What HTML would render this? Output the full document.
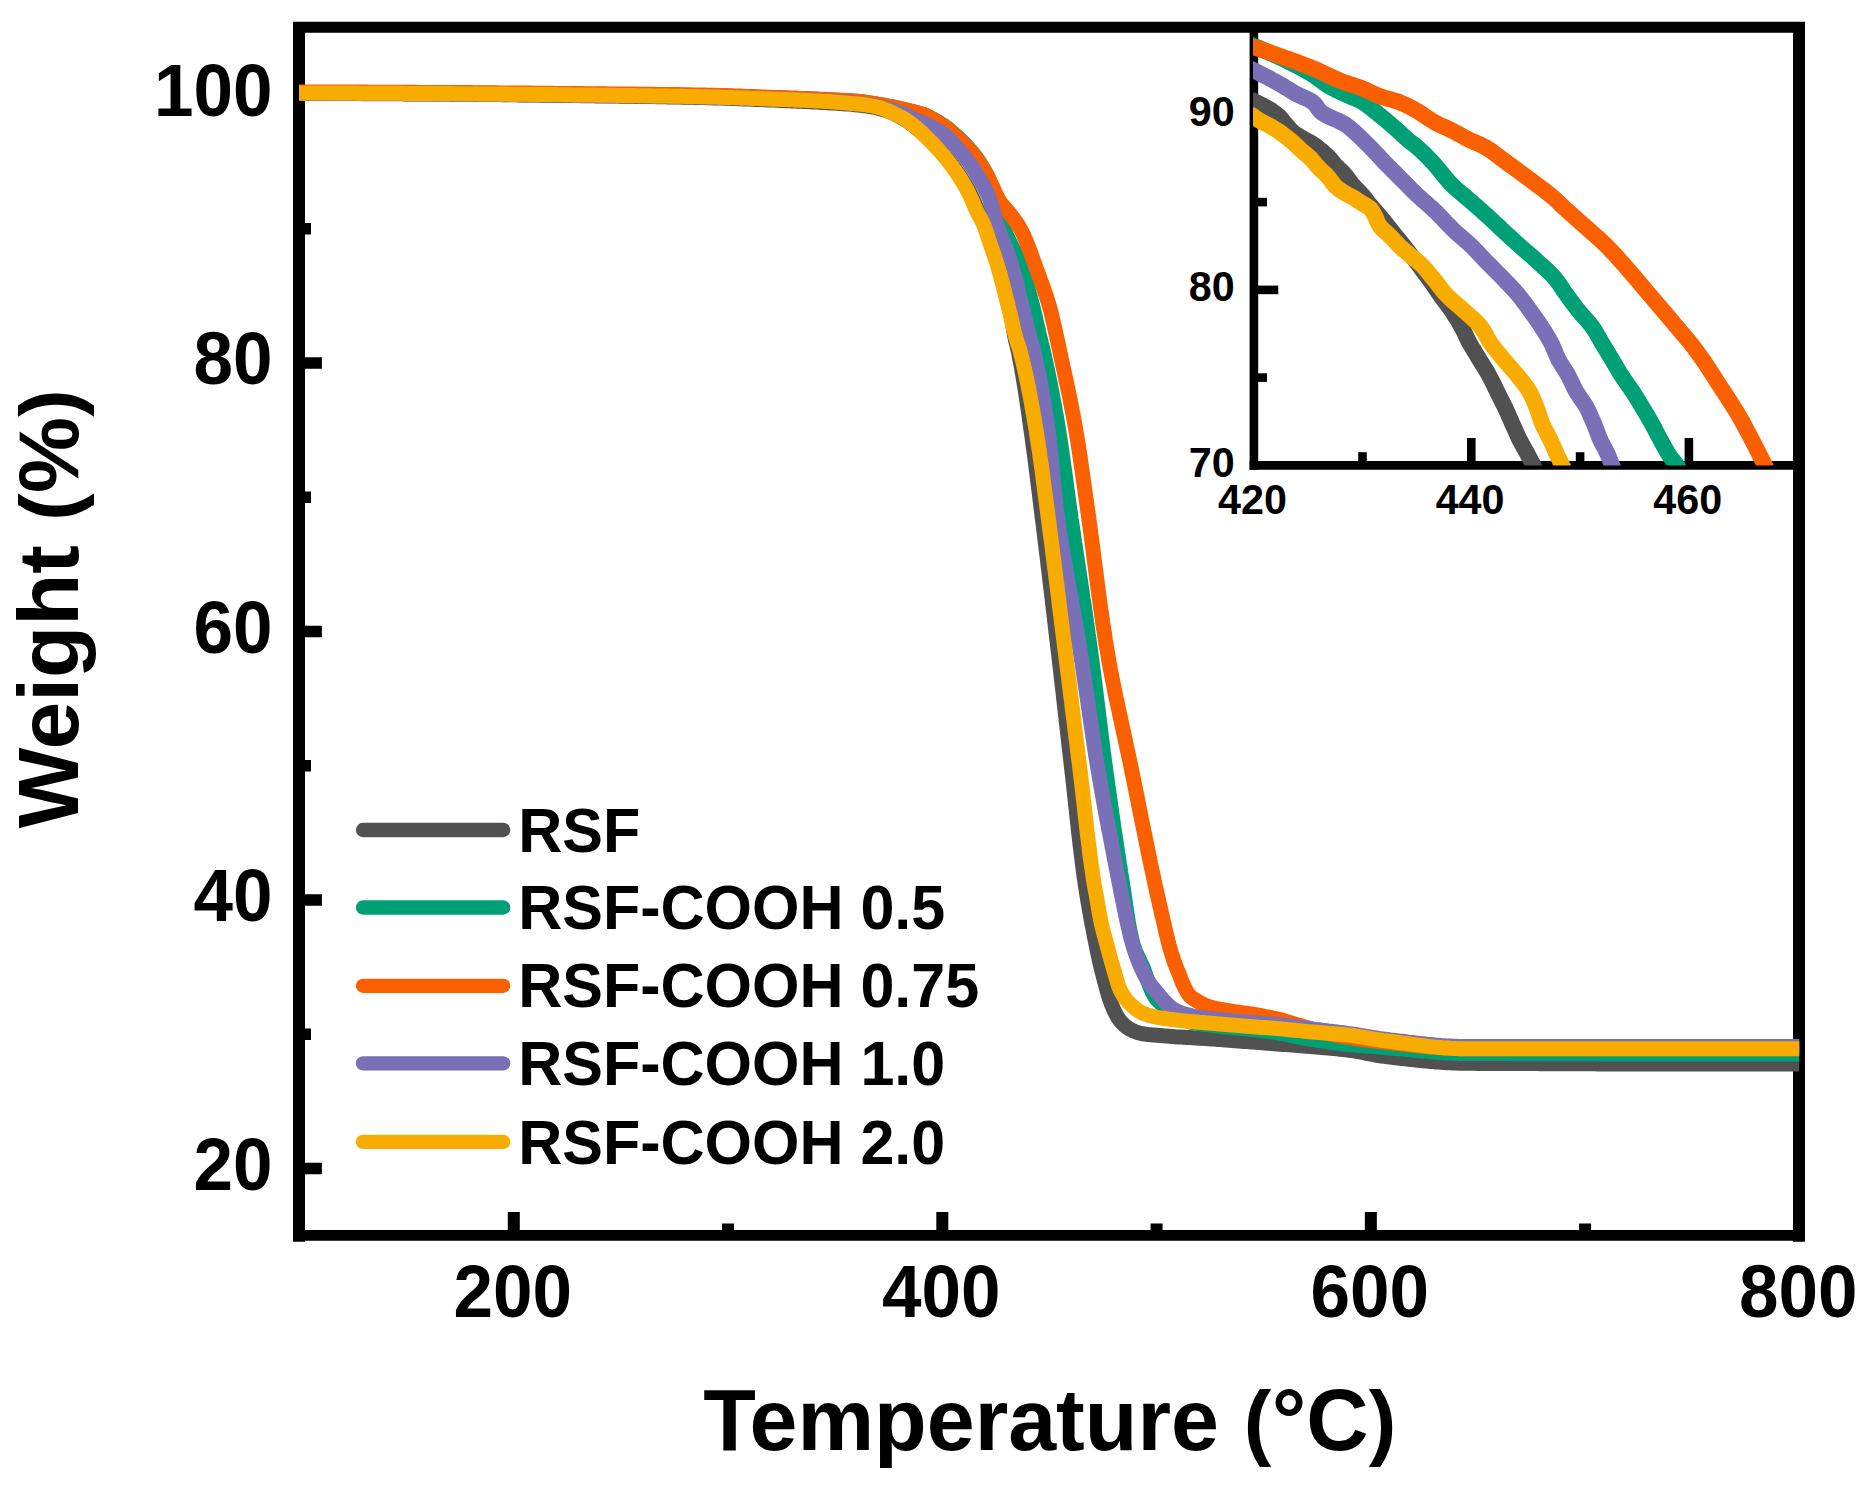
<!DOCTYPE html>
<html lang="en"><head><meta charset="utf-8"><title>TGA curves</title>
<style>html,body{margin:0;padding:0;background:#fff}svg{display:block}</style></head>
<body>
<svg width="1868" height="1486" viewBox="0 0 1868 1486" font-family="'Liberation Sans', sans-serif" font-weight="bold" fill="#000">
<rect width="1868" height="1486" fill="#fff"/>
<defs><clipPath id="ci"><rect x="1253.0" y="27" width="560" height="438.4"/></clipPath></defs>
<g stroke="#000" fill="none"><path stroke-width="12" d="M299,21.9V1241.8M1799,21.9V1241.8"/><path stroke-width="10.8" d="M293,27.25H1805M293,1235.3H1805"/></g>
<g stroke="#000" fill="none"><path stroke-width="11.4" d="M299,1168.47H321.9M299,899.97H321.9M299,631.47H321.9M299,362.97H321.9M299,94.47H321.9M299,1034.22H311M299,765.72H311M299,497.22H311M299,228.72H311"/><path stroke-width="12" d="M513.79,1235.3V1211.9M942.31,1235.3V1211.9M1370.83,1235.3V1211.9M728.05,1235.3V1223.6M1156.57,1235.3V1223.6M1585.09,1235.3V1223.6"/></g>
<g stroke="#000" stroke-width="8.6" fill="none"><path d="M1253.9,27.25V469.7"/><path d="M1249.6000000000001,465.4H1799.0"/><path d="M1253.9,289.9H1278.3"/><path d="M1253.9,114.4H1278.3"/><path d="M1253.9,377.6H1267"/><path d="M1253.9,202.1H1267"/><path d="M1471.3,465.4V438"/><path d="M1688.9,465.4V438"/><path d="M1362.5,465.4V452.2"/><path d="M1580.1,465.4V452.2"/></g>
<g fill="none" stroke-width="15.0" stroke-linejoin="round">
<path stroke="#515151" d="M299.0,93.5 L302.0,93.5 L305.0,93.5 L308.0,93.5 L311.0,93.5 L314.0,93.5 L317.0,93.5 L320.1,93.5 L323.1,93.5 L326.1,93.5 L329.1,93.5 L332.1,93.6 L335.1,93.6 L338.1,93.6 L341.1,93.6 L344.1,93.6 L347.1,93.6 L350.1,93.6 L353.1,93.6 L356.1,93.6 L359.1,93.6 L362.2,93.7 L365.2,93.7 L368.2,93.7 L371.2,93.7 L374.2,93.7 L377.2,93.7 L380.2,93.7 L383.2,93.7 L386.2,93.8 L389.2,93.8 L392.2,93.8 L395.2,93.8 L398.2,93.8 L401.2,93.8 L404.3,93.9 L407.3,93.9 L410.3,93.9 L413.3,93.9 L416.3,93.9 L419.3,93.9 L422.3,94.0 L425.3,94.0 L428.3,94.0 L431.3,94.0 L434.3,94.0 L437.3,94.0 L440.3,94.1 L443.3,94.1 L446.4,94.1 L449.4,94.1 L452.4,94.2 L455.4,94.2 L458.4,94.2 L461.4,94.2 L464.4,94.3 L467.4,94.3 L470.4,94.3 L473.4,94.3 L476.4,94.4 L479.4,94.4 L482.4,94.4 L485.4,94.5 L488.5,94.5 L491.5,94.5 L494.5,94.6 L497.5,94.6 L500.5,94.6 L503.5,94.7 L506.5,94.7 L509.5,94.8 L512.5,94.8 L515.5,94.8 L518.5,94.9 L521.5,94.9 L524.5,94.9 L527.5,95.0 L530.6,95.0 L533.6,95.1 L536.6,95.1 L539.6,95.1 L542.6,95.2 L545.6,95.2 L548.6,95.3 L551.6,95.3 L554.6,95.3 L557.6,95.4 L560.6,95.4 L563.6,95.4 L566.6,95.5 L569.6,95.5 L572.6,95.6 L575.7,95.6 L578.7,95.6 L581.7,95.7 L584.7,95.7 L587.7,95.7 L590.7,95.8 L593.7,95.8 L596.7,95.9 L599.7,95.9 L602.7,95.9 L605.7,96.0 L608.7,96.0 L611.7,96.0 L614.7,96.1 L617.8,96.1 L620.8,96.2 L623.8,96.2 L626.8,96.2 L629.8,96.3 L632.8,96.3 L635.8,96.4 L638.8,96.4 L641.8,96.5 L644.8,96.5 L647.8,96.5 L650.8,96.6 L653.8,96.6 L656.8,96.7 L659.9,96.7 L662.9,96.8 L665.9,96.8 L668.9,96.9 L671.9,96.9 L674.9,97.0 L677.9,97.1 L680.9,97.1 L683.9,97.2 L686.9,97.2 L689.9,97.3 L692.9,97.3 L695.9,97.4 L698.9,97.5 L701.9,97.5 L705.0,97.6 L708.0,97.7 L711.0,97.8 L714.0,97.9 L717.0,97.9 L720.0,98.0 L723.0,98.1 L726.0,98.2 L729.0,98.3 L732.0,98.4 L735.0,98.6 L738.0,98.7 L741.0,98.8 L744.0,98.9 L747.0,99.0 L750.0,99.1 L753.0,99.3 L756.0,99.4 L759.0,99.5 L762.1,99.6 L765.1,99.8 L768.1,99.9 L771.1,100.0 L774.1,100.1 L777.1,100.3 L780.1,100.4 L783.1,100.5 L786.1,100.7 L789.1,100.8 L792.1,100.9 L795.1,101.1 L798.1,101.2 L801.1,101.3 L804.1,101.5 L807.1,101.6 L810.1,101.8 L813.1,101.9 L816.1,102.1 L819.1,102.2 L822.1,102.4 L825.1,102.5 L828.1,102.7 L831.1,102.9 L834.1,103.1 L837.1,103.3 L840.1,103.5 L843.1,103.7 L846.2,103.9 L849.2,104.1 L852.2,104.4 L855.1,104.7 L858.1,105.0 L861.1,105.3 L864.1,105.7 L867.1,106.1 L870.1,106.6 L873.1,107.2 L876.0,107.7 L878.9,108.4 L881.8,109.1 L884.7,109.9 L887.5,110.9 L890.3,112.0 L893.1,113.3 L895.9,114.6 L898.6,116.0 L901.2,117.4 L903.8,118.9 L906.3,120.4 L908.8,122.1 L911.2,123.9 L913.7,125.7 L916.0,127.6 L918.4,129.5 L920.7,131.5 L922.9,133.5 L925.2,135.5 L927.4,137.5 L929.5,139.6 L931.7,141.7 L933.8,143.9 L935.9,146.0 L938.0,148.2 L940.0,150.5 L942.0,152.7 L944.0,155.0 L945.9,157.3 L947.8,159.6 L949.7,161.9 L951.6,164.3 L953.4,166.7 L955.2,169.1 L956.9,171.6 L958.6,174.0 L960.3,176.5 L962.0,179.1 L963.6,181.6 L965.2,184.2 L966.7,186.8 L968.2,189.4 L969.6,192.0 L970.9,194.7 L972.2,197.4 L973.4,200.2 L974.6,203.0 L975.8,205.7 L977.0,208.5 L978.3,211.2 L979.6,213.9 L981.1,216.5 L982.7,219.1 L984.3,221.6 L985.6,224.3 L986.8,227.0 L987.9,229.8 L989.0,232.6 L990.1,235.4 L991.1,238.2 L992.1,241.1 L993.0,243.9 L993.9,246.8 L994.8,249.7 L995.7,252.6 L996.5,255.5 L997.4,258.4 L998.2,261.4 L999.0,264.3 L999.8,267.1 L1000.6,270.0 L1001.4,272.9 L1002.2,275.8 L1003.0,278.7 L1003.7,281.7 L1004.5,284.6 L1005.2,287.5 L1005.9,290.4 L1006.6,293.4 L1007.3,296.3 L1007.9,299.2 L1008.6,302.2 L1009.2,305.1 L1009.8,308.0 L1010.4,311.0 L1010.9,313.9 L1011.5,316.9 L1012.0,319.9 L1012.4,322.8 L1012.9,325.8 L1013.4,328.8 L1013.9,331.8 L1014.5,334.7 L1015.0,337.7 L1015.6,340.6 L1016.4,343.5 L1017.1,346.4 L1017.9,349.3 L1018.5,352.3 L1019.1,355.2 L1019.6,358.2 L1020.2,361.1 L1020.8,364.1 L1021.3,367.0 L1021.8,370.0 L1022.4,373.0 L1022.9,375.9 L1023.4,378.9 L1023.8,381.8 L1024.3,384.8 L1024.8,387.8 L1025.3,390.8 L1025.7,393.7 L1026.2,396.7 L1026.6,399.7 L1027.1,402.7 L1027.5,405.7 L1027.9,408.6 L1028.4,411.6 L1028.8,414.6 L1029.2,417.6 L1029.6,420.6 L1030.1,423.5 L1030.5,426.5 L1030.9,429.5 L1031.4,432.5 L1031.8,435.4 L1032.2,438.4 L1032.6,441.4 L1033.0,444.4 L1033.4,447.4 L1033.8,450.3 L1034.2,453.3 L1034.6,456.3 L1035.0,459.3 L1035.4,462.3 L1035.7,465.2 L1036.1,468.2 L1036.5,471.2 L1036.9,474.2 L1037.2,477.2 L1037.6,480.2 L1038.0,483.2 L1038.4,486.1 L1038.7,489.1 L1039.1,492.1 L1039.5,495.1 L1039.8,498.1 L1040.2,501.1 L1040.6,504.0 L1040.9,507.0 L1041.3,510.0 L1041.7,513.0 L1042.0,516.0 L1042.4,519.0 L1042.8,522.0 L1043.2,524.9 L1043.5,527.9 L1043.9,530.9 L1044.3,533.9 L1044.6,536.9 L1045.0,539.9 L1045.3,542.8 L1045.7,545.8 L1046.1,548.8 L1046.4,551.8 L1046.8,554.8 L1047.2,557.8 L1047.5,560.8 L1047.9,563.7 L1048.2,566.7 L1048.6,569.7 L1049.0,572.7 L1049.3,575.7 L1049.7,578.7 L1050.0,581.7 L1050.4,584.6 L1050.7,587.6 L1051.1,590.6 L1051.5,593.6 L1051.8,596.6 L1052.2,599.6 L1052.5,602.6 L1052.9,605.5 L1053.2,608.5 L1053.6,611.5 L1053.9,614.5 L1054.3,617.5 L1054.6,620.5 L1055.0,623.5 L1055.3,626.5 L1055.7,629.4 L1056.0,632.4 L1056.4,635.4 L1056.7,638.4 L1057.1,641.4 L1057.4,644.4 L1057.8,647.4 L1058.1,650.3 L1058.5,653.3 L1058.8,656.3 L1059.2,659.3 L1059.5,662.3 L1059.9,665.3 L1060.2,668.3 L1060.6,671.3 L1060.9,674.2 L1061.2,677.2 L1061.6,680.2 L1061.9,683.2 L1062.3,686.2 L1062.6,689.2 L1063.0,692.2 L1063.3,695.2 L1063.6,698.1 L1064.0,701.1 L1064.3,704.1 L1064.6,707.1 L1065.0,710.1 L1065.3,713.1 L1065.7,716.1 L1066.0,719.1 L1066.3,722.1 L1066.7,725.0 L1067.0,728.0 L1067.4,731.0 L1067.7,734.0 L1068.0,737.0 L1068.4,740.0 L1068.7,743.0 L1069.0,746.0 L1069.4,748.9 L1069.7,751.9 L1070.1,754.9 L1070.4,757.9 L1070.8,760.9 L1071.1,763.9 L1071.4,766.9 L1071.8,769.9 L1072.1,772.8 L1072.5,775.8 L1072.8,778.8 L1073.1,781.8 L1073.5,784.8 L1073.8,787.8 L1074.1,790.8 L1074.4,793.8 L1074.8,796.8 L1075.1,799.8 L1075.4,802.8 L1075.7,805.7 L1076.1,808.7 L1076.4,811.7 L1076.7,814.7 L1077.0,817.7 L1077.4,820.7 L1077.7,823.7 L1078.0,826.7 L1078.3,829.7 L1078.7,832.7 L1079.0,835.7 L1079.4,838.6 L1079.7,841.6 L1080.0,844.6 L1080.4,847.6 L1080.8,850.6 L1081.1,853.6 L1081.5,856.6 L1081.9,859.5 L1082.2,862.5 L1082.6,865.5 L1083.0,868.5 L1083.4,871.5 L1083.8,874.4 L1084.2,877.4 L1084.7,880.4 L1085.1,883.4 L1085.5,886.3 L1086.0,889.3 L1086.4,892.3 L1086.9,895.2 L1087.4,898.2 L1087.9,901.2 L1088.4,904.1 L1088.9,907.1 L1089.4,910.1 L1090.0,913.0 L1090.5,916.0 L1091.0,919.0 L1091.6,921.9 L1092.1,924.9 L1092.7,927.8 L1093.3,930.8 L1093.8,933.7 L1094.4,936.7 L1095.0,939.6 L1095.6,942.6 L1096.2,945.5 L1096.8,948.5 L1097.4,951.4 L1098.0,954.4 L1098.7,957.3 L1099.3,960.2 L1100.0,963.2 L1100.7,966.1 L1101.4,969.0 L1102.1,971.9 L1102.9,974.9 L1103.6,977.8 L1104.4,980.7 L1105.2,983.6 L1105.9,986.5 L1106.7,989.4 L1107.6,992.4 L1108.4,995.3 L1109.3,998.1 L1110.3,1001.0 L1111.3,1003.8 L1112.4,1006.5 L1113.6,1009.3 L1114.9,1012.1 L1116.3,1014.8 L1117.8,1017.4 L1119.5,1019.8 L1121.3,1022.1 L1123.4,1024.3 L1125.7,1026.4 L1128.2,1028.2 L1130.7,1029.6 L1133.4,1030.9 L1136.3,1032.1 L1139.2,1033.0 L1142.1,1033.7 L1145.0,1034.1 L1148.0,1034.5 L1151.0,1034.8 L1154.0,1035.1 L1157.0,1035.3 L1160.1,1035.5 L1163.1,1035.8 L1166.1,1036.0 L1169.1,1036.2 L1172.1,1036.4 L1175.1,1036.7 L1178.1,1036.9 L1181.1,1037.0 L1184.1,1037.2 L1187.1,1037.4 L1190.1,1037.6 L1193.1,1037.8 L1196.1,1038.0 L1199.1,1038.2 L1202.1,1038.3 L1205.1,1038.5 L1208.1,1038.7 L1211.1,1038.9 L1214.1,1039.1 L1217.1,1039.4 L1220.1,1039.6 L1223.1,1039.8 L1226.1,1040.0 L1229.1,1040.2 L1232.1,1040.5 L1235.1,1040.7 L1238.1,1040.9 L1241.1,1041.2 L1244.1,1041.4 L1247.1,1041.6 L1250.1,1041.9 L1253.1,1042.1 L1256.1,1042.3 L1259.1,1042.6 L1262.1,1042.8 L1265.0,1043.0 L1268.0,1043.3 L1271.0,1043.5 L1274.0,1043.7 L1277.0,1043.9 L1280.0,1044.2 L1283.0,1044.4 L1286.0,1044.6 L1289.0,1044.8 L1292.0,1045.1 L1295.0,1045.3 L1298.0,1045.5 L1301.0,1045.8 L1304.0,1046.0 L1307.0,1046.3 L1310.0,1046.5 L1313.0,1046.8 L1316.0,1047.0 L1319.0,1047.3 L1322.0,1047.5 L1325.0,1047.8 L1328.0,1048.0 L1331.0,1048.3 L1334.0,1048.6 L1337.0,1048.9 L1340.0,1049.2 L1343.0,1049.5 L1346.0,1049.9 L1348.9,1050.2 L1351.9,1050.6 L1354.9,1051.0 L1357.9,1051.6 L1360.8,1052.1 L1363.8,1052.7 L1366.7,1053.3 L1369.7,1053.9 L1372.6,1054.5 L1375.6,1055.1 L1378.5,1055.6 L1381.5,1056.0 L1384.5,1056.4 L1387.5,1056.8 L1390.4,1057.1 L1393.4,1057.5 L1396.4,1057.9 L1399.4,1058.2 L1402.4,1058.6 L1405.4,1058.9 L1408.4,1059.2 L1411.4,1059.6 L1414.4,1059.9 L1417.4,1060.2 L1420.4,1060.5 L1423.4,1060.8 L1426.4,1061.1 L1429.4,1061.4 L1432.4,1061.6 L1435.4,1061.9 L1438.4,1062.1 L1441.4,1062.3 L1444.4,1062.5 L1447.4,1062.7 L1450.4,1062.8 L1453.4,1063.0 L1456.4,1063.1 L1459.4,1063.2 L1462.4,1063.2 L1465.4,1063.3 L1468.4,1063.3 L1471.4,1063.3 L1474.4,1063.3 L1477.4,1063.4 L1480.4,1063.4 L1483.4,1063.4 L1486.4,1063.4 L1489.4,1063.4 L1492.4,1063.4 L1495.4,1063.5 L1498.4,1063.5 L1501.4,1063.5 L1504.4,1063.5 L1507.4,1063.5 L1510.4,1063.5 L1513.4,1063.5 L1516.4,1063.6 L1519.4,1063.6 L1522.4,1063.6 L1525.4,1063.6 L1528.4,1063.6 L1531.4,1063.6 L1534.4,1063.6 L1537.4,1063.6 L1540.4,1063.7 L1543.5,1063.7 L1546.5,1063.7 L1549.5,1063.7 L1552.5,1063.7 L1555.5,1063.7 L1558.5,1063.7 L1561.5,1063.7 L1564.5,1063.7 L1567.5,1063.8 L1570.5,1063.8 L1573.5,1063.8 L1576.5,1063.8 L1579.5,1063.8 L1582.5,1063.8 L1585.5,1063.8 L1588.5,1063.8 L1591.5,1063.8 L1594.5,1063.8 L1597.5,1063.9 L1600.5,1063.9 L1603.5,1063.9 L1606.5,1063.9 L1609.5,1063.9 L1612.6,1063.9 L1615.6,1063.9 L1618.6,1063.9 L1621.6,1063.9 L1624.6,1063.9 L1627.6,1063.9 L1630.6,1063.9 L1633.6,1063.9 L1636.6,1063.9 L1639.6,1064.0 L1642.6,1064.0 L1645.6,1064.0 L1648.6,1064.0 L1651.6,1064.0 L1654.6,1064.0 L1657.7,1064.0 L1660.7,1064.0 L1663.7,1064.0 L1666.7,1064.0 L1669.7,1064.0 L1672.7,1064.0 L1675.7,1064.0 L1678.7,1064.0 L1681.7,1064.0 L1684.7,1064.0 L1687.7,1064.0 L1690.8,1064.0 L1693.8,1064.0 L1696.8,1064.0 L1699.8,1064.0 L1702.8,1064.1 L1705.8,1064.1 L1708.8,1064.1 L1711.8,1064.1 L1714.8,1064.1 L1717.8,1064.1 L1720.9,1064.1 L1723.9,1064.1 L1726.9,1064.1 L1729.9,1064.1 L1732.9,1064.1 L1735.9,1064.1 L1738.9,1064.1 L1741.9,1064.1 L1744.9,1064.1 L1748.0,1064.1 L1751.0,1064.1 L1754.0,1064.1 L1757.0,1064.1 L1760.0,1064.1 L1763.0,1064.1 L1766.0,1064.1 L1769.1,1064.1 L1772.1,1064.1 L1775.1,1064.1 L1778.1,1064.1 L1781.1,1064.1 L1784.1,1064.1 L1787.1,1064.1 L1790.2,1064.1 L1793.2,1064.1 L1796.2,1064.1 L1799.2,1064.1"/>
<path stroke="#00A076" d="M299.0,92.5 L302.0,92.5 L305.0,92.5 L308.0,92.5 L311.0,92.5 L314.0,92.5 L317.0,92.5 L320.0,92.5 L323.1,92.5 L326.1,92.5 L329.1,92.5 L332.1,92.5 L335.1,92.6 L338.1,92.6 L341.1,92.6 L344.1,92.6 L347.1,92.6 L350.1,92.6 L353.1,92.6 L356.1,92.6 L359.1,92.6 L362.1,92.6 L365.1,92.6 L368.2,92.7 L371.2,92.7 L374.2,92.7 L377.2,92.7 L380.2,92.7 L383.2,92.7 L386.2,92.7 L389.2,92.7 L392.2,92.7 L395.2,92.8 L398.2,92.8 L401.2,92.8 L404.2,92.8 L407.2,92.8 L410.2,92.8 L413.3,92.8 L416.3,92.8 L419.3,92.9 L422.3,92.9 L425.3,92.9 L428.3,92.9 L431.3,92.9 L434.3,92.9 L437.3,92.9 L440.3,92.9 L443.3,93.0 L446.3,93.0 L449.3,93.0 L452.3,93.0 L455.3,93.0 L458.4,93.1 L461.4,93.1 L464.4,93.1 L467.4,93.1 L470.4,93.1 L473.4,93.2 L476.4,93.2 L479.4,93.2 L482.4,93.2 L485.4,93.2 L488.4,93.3 L491.4,93.3 L494.4,93.3 L497.4,93.3 L500.4,93.4 L503.4,93.4 L506.5,93.4 L509.5,93.5 L512.5,93.5 L515.5,93.5 L518.5,93.5 L521.5,93.6 L524.5,93.6 L527.5,93.6 L530.5,93.6 L533.5,93.7 L536.5,93.7 L539.5,93.7 L542.5,93.8 L545.5,93.8 L548.5,93.8 L551.6,93.8 L554.6,93.9 L557.6,93.9 L560.6,93.9 L563.6,94.0 L566.6,94.0 L569.6,94.0 L572.6,94.0 L575.6,94.1 L578.6,94.1 L581.6,94.1 L584.6,94.2 L587.6,94.2 L590.6,94.2 L593.6,94.2 L596.7,94.3 L599.7,94.3 L602.7,94.3 L605.7,94.4 L608.7,94.4 L611.7,94.4 L614.7,94.5 L617.7,94.5 L620.7,94.5 L623.7,94.6 L626.7,94.6 L629.7,94.6 L632.7,94.6 L635.7,94.7 L638.7,94.7 L641.8,94.8 L644.8,94.8 L647.8,94.8 L650.8,94.9 L653.8,94.9 L656.8,94.9 L659.8,95.0 L662.8,95.0 L665.8,95.1 L668.8,95.1 L671.8,95.1 L674.8,95.2 L677.8,95.2 L680.8,95.3 L683.8,95.3 L686.8,95.4 L689.9,95.4 L692.9,95.5 L695.9,95.5 L698.9,95.6 L701.9,95.6 L704.9,95.7 L707.9,95.8 L710.9,95.8 L713.9,95.9 L716.9,96.0 L719.9,96.0 L722.9,96.1 L725.9,96.2 L728.9,96.3 L731.9,96.4 L734.9,96.5 L737.9,96.6 L740.9,96.7 L744.0,96.8 L747.0,96.9 L750.0,97.0 L753.0,97.1 L756.0,97.2 L759.0,97.3 L762.0,97.4 L765.0,97.5 L768.0,97.6 L771.0,97.7 L774.0,97.8 L777.0,97.9 L780.0,98.0 L783.0,98.1 L786.0,98.2 L789.0,98.3 L792.0,98.4 L795.0,98.5 L798.0,98.6 L801.0,98.8 L804.0,98.9 L807.1,99.0 L810.1,99.1 L813.1,99.2 L816.1,99.3 L819.1,99.5 L822.1,99.6 L825.1,99.7 L828.1,99.9 L831.1,100.0 L834.1,100.2 L837.1,100.3 L840.1,100.5 L843.1,100.6 L846.1,100.8 L849.1,100.9 L852.1,101.1 L855.1,101.3 L858.1,101.5 L861.1,101.8 L864.1,102.1 L867.1,102.5 L870.0,103.0 L873.0,103.4 L876.0,103.9 L878.9,104.5 L881.9,105.0 L884.9,105.5 L887.8,106.1 L890.8,106.6 L893.7,107.2 L896.7,107.9 L899.6,108.5 L902.5,109.2 L905.5,109.8 L908.4,110.5 L911.4,111.2 L914.3,111.9 L917.2,112.7 L920.1,113.5 L922.9,114.4 L925.7,115.4 L928.5,116.7 L931.1,118.1 L933.8,119.5 L936.4,121.0 L939.0,122.5 L941.6,124.1 L944.1,125.8 L946.5,127.5 L948.9,129.3 L951.2,131.3 L953.5,133.3 L955.7,135.3 L957.9,137.3 L960.1,139.4 L962.3,141.5 L964.4,143.6 L966.5,145.8 L968.5,148.0 L970.5,150.3 L972.4,152.6 L974.3,154.9 L976.2,157.3 L977.9,159.8 L979.5,162.2 L981.2,164.8 L982.7,167.4 L984.2,170.0 L985.7,172.6 L987.1,175.3 L988.3,178.0 L989.5,180.8 L990.6,183.5 L991.7,186.4 L992.7,189.2 L993.6,192.1 L994.5,194.9 L995.4,197.8 L996.3,200.7 L997.2,203.6 L998.0,206.5 L998.8,209.4 L999.6,212.3 L1000.4,215.2 L1001.2,218.1 L1001.9,221.0 L1002.8,223.9 L1003.6,226.8 L1004.5,229.6 L1005.5,232.5 L1006.6,235.2 L1007.9,238.0 L1009.1,240.7 L1010.5,243.4 L1011.8,246.1 L1013.2,248.8 L1014.6,251.5 L1015.9,254.2 L1017.3,256.9 L1018.5,259.6 L1019.7,262.4 L1020.8,265.2 L1021.8,268.0 L1022.8,270.8 L1023.7,273.7 L1024.6,276.5 L1025.5,279.4 L1026.3,282.3 L1027.1,285.2 L1027.9,288.1 L1028.7,291.0 L1029.5,293.9 L1030.3,296.8 L1031.0,299.8 L1031.8,302.7 L1032.5,305.6 L1033.3,308.5 L1034.0,311.4 L1034.7,314.3 L1035.4,317.3 L1036.1,320.2 L1036.7,323.1 L1037.4,326.1 L1038.1,329.0 L1038.7,331.9 L1039.4,334.9 L1040.1,337.8 L1040.8,340.7 L1041.5,343.6 L1042.3,346.6 L1043.0,349.5 L1043.6,352.4 L1044.3,355.3 L1044.9,358.3 L1045.6,361.2 L1046.2,364.1 L1046.8,367.1 L1047.5,370.0 L1048.1,373.0 L1048.7,375.9 L1049.3,378.9 L1049.9,381.8 L1050.5,384.8 L1051.0,387.7 L1051.6,390.7 L1052.2,393.6 L1052.7,396.6 L1053.3,399.5 L1053.8,402.5 L1054.4,405.5 L1054.9,408.4 L1055.4,411.4 L1056.0,414.3 L1056.5,417.3 L1057.0,420.3 L1057.5,423.2 L1058.0,426.2 L1058.5,429.2 L1058.9,432.1 L1059.4,435.1 L1059.9,438.1 L1060.3,441.0 L1060.8,444.0 L1061.2,447.0 L1061.7,450.0 L1062.1,452.9 L1062.5,455.9 L1062.9,458.9 L1063.3,461.9 L1063.7,464.8 L1064.1,467.8 L1064.6,470.8 L1065.0,473.8 L1065.4,476.8 L1065.8,479.7 L1066.2,482.7 L1066.6,485.7 L1067.0,488.7 L1067.4,491.7 L1067.8,494.6 L1068.2,497.6 L1068.6,500.6 L1069.0,503.6 L1069.4,506.6 L1069.8,509.5 L1070.3,512.5 L1070.7,515.5 L1071.1,518.5 L1071.6,521.4 L1072.0,524.4 L1072.4,527.4 L1072.9,530.4 L1073.3,533.3 L1073.8,536.3 L1074.2,539.3 L1074.6,542.3 L1075.1,545.2 L1075.5,548.2 L1076.0,551.2 L1076.4,554.2 L1076.9,557.1 L1077.3,560.1 L1077.8,563.1 L1078.2,566.0 L1078.7,569.0 L1079.1,572.0 L1079.6,575.0 L1080.0,577.9 L1080.5,580.9 L1080.9,583.9 L1081.4,586.9 L1081.8,589.8 L1082.3,592.8 L1082.7,595.8 L1083.1,598.8 L1083.6,601.7 L1084.0,604.7 L1084.5,607.7 L1084.9,610.7 L1085.3,613.6 L1085.8,616.6 L1086.2,619.6 L1086.6,622.6 L1087.1,625.5 L1087.5,628.5 L1087.9,631.5 L1088.3,634.5 L1088.8,637.4 L1089.2,640.4 L1089.6,643.4 L1090.0,646.4 L1090.4,649.3 L1090.8,652.3 L1091.2,655.3 L1091.6,658.3 L1092.0,661.3 L1092.4,664.2 L1092.8,667.2 L1093.2,670.2 L1093.6,673.2 L1093.9,676.2 L1094.3,679.2 L1094.7,682.1 L1095.1,685.1 L1095.4,688.1 L1095.8,691.1 L1096.2,694.1 L1096.5,697.1 L1096.9,700.0 L1097.3,703.0 L1097.7,706.0 L1098.0,709.0 L1098.4,712.0 L1098.8,715.0 L1099.1,717.9 L1099.5,720.9 L1099.9,723.9 L1100.2,726.9 L1100.6,729.9 L1101.0,732.9 L1101.3,735.9 L1101.7,738.8 L1102.1,741.8 L1102.5,744.8 L1102.9,747.8 L1103.2,750.8 L1103.6,753.7 L1104.0,756.7 L1104.4,759.7 L1104.8,762.7 L1105.2,765.7 L1105.6,768.6 L1106.0,771.6 L1106.4,774.6 L1106.8,777.6 L1107.3,780.6 L1107.7,783.5 L1108.1,786.5 L1108.5,789.5 L1108.9,792.5 L1109.3,795.4 L1109.8,798.4 L1110.2,801.4 L1110.6,804.4 L1111.0,807.4 L1111.4,810.3 L1111.9,813.3 L1112.3,816.3 L1112.7,819.3 L1113.2,822.2 L1113.6,825.2 L1114.0,828.2 L1114.5,831.2 L1114.9,834.1 L1115.4,837.1 L1115.8,840.1 L1116.3,843.1 L1116.7,846.0 L1117.2,849.0 L1117.6,852.0 L1118.1,854.9 L1118.5,857.9 L1119.0,860.9 L1119.4,863.9 L1119.9,866.8 L1120.4,869.8 L1120.8,872.8 L1121.3,875.7 L1121.8,878.7 L1122.3,881.7 L1122.7,884.7 L1123.2,887.6 L1123.6,890.6 L1124.1,893.6 L1124.5,896.6 L1124.9,899.6 L1125.3,902.6 L1125.8,905.6 L1126.2,908.6 L1126.7,911.6 L1127.1,914.6 L1127.6,917.6 L1128.1,920.6 L1128.6,923.5 L1129.2,926.5 L1129.7,929.4 L1130.3,932.4 L1130.9,935.3 L1131.6,938.2 L1132.3,941.0 L1133.0,943.9 L1133.8,946.7 L1134.8,949.5 L1135.9,952.3 L1137.2,955.1 L1138.5,957.8 L1139.8,960.5 L1141.1,963.3 L1142.4,966.0 L1143.6,968.8 L1144.6,971.6 L1145.6,974.5 L1146.6,977.3 L1147.6,980.2 L1148.6,983.0 L1149.6,985.8 L1150.8,988.6 L1152.0,991.4 L1153.3,994.1 L1154.8,996.7 L1156.5,999.1 L1158.6,1001.3 L1160.8,1003.3 L1162.9,1005.6 L1164.9,1007.9 L1166.9,1010.1 L1169.1,1012.1 L1171.5,1013.8 L1174.0,1015.4 L1176.7,1017.0 L1179.4,1018.4 L1182.2,1019.6 L1185.1,1020.6 L1187.9,1021.4 L1190.7,1022.1 L1193.7,1022.7 L1196.6,1023.2 L1199.6,1023.6 L1202.6,1024.1 L1205.7,1024.5 L1208.7,1024.9 L1211.7,1025.3 L1214.6,1025.7 L1217.6,1026.0 L1220.6,1026.4 L1223.6,1026.7 L1226.6,1027.1 L1229.6,1027.4 L1232.6,1027.7 L1235.6,1028.0 L1238.6,1028.3 L1241.6,1028.6 L1244.6,1028.9 L1247.6,1029.1 L1250.5,1029.4 L1253.5,1029.8 L1256.5,1030.1 L1259.5,1030.4 L1262.5,1030.7 L1265.5,1031.1 L1268.5,1031.5 L1271.4,1031.9 L1274.4,1032.3 L1277.4,1032.7 L1280.3,1033.3 L1283.3,1033.8 L1286.2,1034.5 L1289.2,1035.1 L1292.1,1035.8 L1295.0,1036.4 L1298.0,1037.0 L1300.9,1037.6 L1303.9,1038.1 L1306.9,1038.6 L1309.8,1039.1 L1312.8,1039.6 L1315.8,1040.0 L1318.7,1040.5 L1321.7,1041.0 L1324.7,1041.4 L1327.7,1041.8 L1330.6,1042.3 L1333.6,1042.7 L1336.6,1043.1 L1339.6,1043.5 L1342.6,1043.8 L1345.6,1044.2 L1348.6,1044.5 L1351.5,1044.8 L1354.5,1045.1 L1357.5,1045.4 L1360.5,1045.6 L1363.5,1045.9 L1366.5,1046.1 L1369.5,1046.3 L1372.5,1046.6 L1375.5,1046.8 L1378.5,1047.0 L1381.5,1047.2 L1384.5,1047.5 L1387.5,1047.7 L1390.5,1048.0 L1393.5,1048.2 L1396.5,1048.5 L1399.5,1048.8 L1402.5,1049.1 L1405.5,1049.4 L1408.5,1049.6 L1411.5,1049.9 L1414.5,1050.2 L1417.5,1050.5 L1420.5,1050.8 L1423.5,1051.1 L1426.5,1051.3 L1429.5,1051.6 L1432.5,1051.8 L1435.5,1052.1 L1438.5,1052.3 L1441.5,1052.5 L1444.5,1052.7 L1447.5,1052.9 L1450.5,1053.0 L1453.5,1053.2 L1456.5,1053.3 L1459.5,1053.4 L1462.5,1053.5 L1465.5,1053.5 L1468.5,1053.5 L1471.5,1053.5 L1474.5,1053.5 L1477.5,1053.5 L1480.5,1053.5 L1483.5,1053.6 L1486.5,1053.6 L1489.5,1053.6 L1492.5,1053.6 L1495.5,1053.6 L1498.5,1053.6 L1501.5,1053.6 L1504.5,1053.6 L1507.5,1053.6 L1510.5,1053.6 L1513.5,1053.7 L1516.5,1053.7 L1519.5,1053.7 L1522.5,1053.7 L1525.5,1053.7 L1528.5,1053.7 L1531.5,1053.7 L1534.5,1053.7 L1537.5,1053.7 L1540.5,1053.7 L1543.5,1053.7 L1546.5,1053.7 L1549.5,1053.7 L1552.5,1053.8 L1555.5,1053.8 L1558.6,1053.8 L1561.6,1053.8 L1564.6,1053.8 L1567.6,1053.8 L1570.6,1053.8 L1573.6,1053.8 L1576.6,1053.8 L1579.6,1053.8 L1582.6,1053.8 L1585.6,1053.8 L1588.6,1053.8 L1591.6,1053.8 L1594.6,1053.8 L1597.6,1053.8 L1600.6,1053.9 L1603.6,1053.9 L1606.6,1053.9 L1609.6,1053.9 L1612.6,1053.9 L1615.6,1053.9 L1618.7,1053.9 L1621.7,1053.9 L1624.7,1053.9 L1627.7,1053.9 L1630.7,1053.9 L1633.7,1053.9 L1636.7,1053.9 L1639.7,1053.9 L1642.7,1053.9 L1645.7,1053.9 L1648.7,1053.9 L1651.7,1053.9 L1654.7,1053.9 L1657.7,1053.9 L1660.7,1053.9 L1663.7,1053.9 L1666.8,1053.9 L1669.8,1053.9 L1672.8,1053.9 L1675.8,1053.9 L1678.8,1054.0 L1681.8,1054.0 L1684.8,1054.0 L1687.8,1054.0 L1690.8,1054.0 L1693.8,1054.0 L1696.8,1054.0 L1699.8,1054.0 L1702.9,1054.0 L1705.9,1054.0 L1708.9,1054.0 L1711.9,1054.0 L1714.9,1054.0 L1717.9,1054.0 L1720.9,1054.0 L1723.9,1054.0 L1726.9,1054.0 L1729.9,1054.0 L1732.9,1054.0 L1736.0,1054.0 L1739.0,1054.0 L1742.0,1054.0 L1745.0,1054.0 L1748.0,1054.0 L1751.0,1054.0 L1754.0,1054.0 L1757.0,1054.0 L1760.0,1054.0 L1763.1,1054.0 L1766.1,1054.0 L1769.1,1054.0 L1772.1,1054.0 L1775.1,1054.0 L1778.1,1054.0 L1781.1,1054.0 L1784.1,1054.0 L1787.1,1054.0 L1790.2,1054.0 L1793.2,1054.0 L1796.2,1054.0 L1799.2,1054.0"/>
<path stroke="#FA5F00" d="M299.0,92.0 L302.0,92.0 L305.0,92.0 L308.0,92.0 L311.0,92.0 L314.0,92.0 L317.0,92.0 L320.1,92.0 L323.1,92.0 L326.1,92.0 L329.1,92.0 L332.1,92.0 L335.1,92.1 L338.1,92.1 L341.1,92.1 L344.1,92.1 L347.1,92.1 L350.1,92.1 L353.1,92.1 L356.1,92.1 L359.1,92.1 L362.2,92.1 L365.2,92.1 L368.2,92.2 L371.2,92.2 L374.2,92.2 L377.2,92.2 L380.2,92.2 L383.2,92.2 L386.2,92.2 L389.2,92.2 L392.2,92.2 L395.2,92.3 L398.2,92.3 L401.2,92.3 L404.3,92.3 L407.3,92.3 L410.3,92.3 L413.3,92.3 L416.3,92.3 L419.3,92.4 L422.3,92.4 L425.3,92.4 L428.3,92.4 L431.3,92.4 L434.3,92.4 L437.3,92.4 L440.3,92.4 L443.3,92.5 L446.4,92.5 L449.4,92.5 L452.4,92.5 L455.4,92.5 L458.4,92.6 L461.4,92.6 L464.4,92.6 L467.4,92.6 L470.4,92.6 L473.4,92.7 L476.4,92.7 L479.4,92.7 L482.4,92.7 L485.4,92.8 L488.5,92.8 L491.5,92.8 L494.5,92.8 L497.5,92.9 L500.5,92.9 L503.5,92.9 L506.5,92.9 L509.5,93.0 L512.5,93.0 L515.5,93.0 L518.5,93.0 L521.5,93.1 L524.5,93.1 L527.5,93.1 L530.6,93.1 L533.6,93.2 L536.6,93.2 L539.6,93.2 L542.6,93.3 L545.6,93.3 L548.6,93.3 L551.6,93.3 L554.6,93.4 L557.6,93.4 L560.6,93.4 L563.6,93.5 L566.6,93.5 L569.6,93.5 L572.6,93.5 L575.7,93.6 L578.7,93.6 L581.7,93.6 L584.7,93.7 L587.7,93.7 L590.7,93.7 L593.7,93.7 L596.7,93.8 L599.7,93.8 L602.7,93.8 L605.7,93.8 L608.7,93.9 L611.7,93.9 L614.8,93.9 L617.8,94.0 L620.8,94.0 L623.8,94.0 L626.8,94.0 L629.8,94.1 L632.8,94.1 L635.8,94.1 L638.8,94.2 L641.8,94.2 L644.8,94.2 L647.8,94.3 L650.8,94.3 L653.8,94.3 L656.9,94.4 L659.9,94.4 L662.9,94.4 L665.9,94.5 L668.9,94.5 L671.9,94.6 L674.9,94.6 L677.9,94.6 L680.9,94.7 L683.9,94.7 L686.9,94.8 L689.9,94.8 L692.9,94.9 L695.9,94.9 L698.9,95.0 L701.9,95.0 L705.0,95.1 L708.0,95.2 L711.0,95.2 L714.0,95.3 L717.0,95.4 L720.0,95.5 L723.0,95.6 L726.0,95.6 L729.0,95.7 L732.0,95.8 L735.0,95.9 L738.0,96.0 L741.0,96.1 L744.0,96.3 L747.0,96.4 L750.0,96.5 L753.0,96.6 L756.1,96.7 L759.1,96.8 L762.1,96.9 L765.1,97.0 L768.1,97.2 L771.1,97.3 L774.1,97.4 L777.1,97.5 L780.1,97.6 L783.1,97.7 L786.1,97.8 L789.1,97.9 L792.1,98.0 L795.1,98.1 L798.1,98.2 L801.1,98.4 L804.1,98.5 L807.1,98.6 L810.2,98.7 L813.2,98.8 L816.2,98.9 L819.2,99.1 L822.2,99.2 L825.2,99.3 L828.2,99.5 L831.2,99.6 L834.2,99.7 L837.2,99.9 L840.2,100.1 L843.2,100.2 L846.2,100.4 L849.2,100.6 L852.2,100.8 L855.2,101.1 L858.2,101.3 L861.2,101.6 L864.2,102.0 L867.1,102.4 L870.1,102.8 L873.1,103.3 L876.1,103.8 L879.0,104.3 L882.0,104.8 L885.0,105.3 L887.9,105.9 L890.9,106.4 L893.8,107.0 L896.8,107.7 L899.7,108.3 L902.6,109.0 L905.5,109.7 L908.4,110.5 L911.3,111.3 L914.2,112.1 L917.2,112.8 L920.1,113.6 L923.0,114.4 L925.8,115.4 L928.5,116.7 L931.1,118.2 L933.7,119.7 L936.3,121.3 L938.9,122.9 L941.4,124.5 L943.9,126.2 L946.3,128.0 L948.7,129.8 L951.0,131.7 L953.2,133.7 L955.5,135.8 L957.7,137.8 L959.9,139.9 L962.0,142.0 L964.1,144.1 L966.2,146.3 L968.2,148.5 L970.2,150.8 L972.2,153.1 L974.0,155.4 L975.9,157.8 L977.7,160.2 L979.3,162.7 L981.0,165.2 L982.6,167.8 L984.1,170.4 L985.6,173.0 L987.1,175.6 L988.5,178.3 L989.9,180.9 L991.2,183.6 L992.5,186.4 L993.7,189.2 L994.9,192.0 L996.2,194.7 L997.5,197.4 L998.9,200.0 L1000.5,202.5 L1002.3,204.9 L1004.3,207.1 L1006.3,209.4 L1008.3,211.7 L1010.2,214.0 L1012.0,216.4 L1013.8,218.8 L1015.6,221.3 L1017.3,223.8 L1018.9,226.4 L1020.4,228.9 L1021.8,231.6 L1023.1,234.2 L1024.4,236.9 L1025.5,239.7 L1026.7,242.5 L1027.8,245.3 L1028.9,248.1 L1030.0,250.9 L1031.0,253.8 L1032.0,256.6 L1033.0,259.5 L1034.1,262.3 L1035.1,265.1 L1036.1,267.9 L1037.2,270.8 L1038.2,273.6 L1039.3,276.4 L1040.3,279.2 L1041.3,282.1 L1042.3,284.9 L1043.4,287.8 L1044.3,290.6 L1045.3,293.4 L1046.3,296.3 L1047.2,299.2 L1048.1,302.0 L1048.9,304.9 L1049.8,307.8 L1050.6,310.7 L1051.3,313.6 L1052.0,316.5 L1052.7,319.4 L1053.4,322.4 L1054.1,325.3 L1054.7,328.2 L1055.4,331.2 L1056.0,334.1 L1056.6,337.1 L1057.3,340.0 L1058.0,342.9 L1058.6,345.9 L1059.2,348.8 L1059.9,351.7 L1060.5,354.7 L1061.1,357.6 L1061.8,360.6 L1062.4,363.5 L1063.0,366.4 L1063.7,369.4 L1064.3,372.3 L1064.9,375.3 L1065.6,378.2 L1066.2,381.2 L1066.8,384.1 L1067.5,387.0 L1068.1,390.0 L1068.7,392.9 L1069.3,395.9 L1069.9,398.8 L1070.5,401.8 L1071.1,404.7 L1071.7,407.7 L1072.2,410.6 L1072.8,413.6 L1073.4,416.5 L1073.9,419.5 L1074.5,422.4 L1075.0,425.4 L1075.5,428.3 L1076.0,431.3 L1076.5,434.3 L1077.0,437.2 L1077.5,440.2 L1078.0,443.2 L1078.4,446.1 L1078.9,449.1 L1079.3,452.1 L1079.8,455.1 L1080.2,458.0 L1080.7,461.0 L1081.1,464.0 L1081.5,467.0 L1082.0,469.9 L1082.4,472.9 L1082.8,475.9 L1083.2,478.9 L1083.6,481.9 L1084.1,484.8 L1084.5,487.8 L1084.9,490.8 L1085.3,493.8 L1085.7,496.8 L1086.1,499.7 L1086.6,502.7 L1087.0,505.7 L1087.4,508.7 L1087.8,511.6 L1088.3,514.6 L1088.7,517.6 L1089.1,520.6 L1089.5,523.6 L1089.9,526.5 L1090.3,529.5 L1090.7,532.5 L1091.1,535.5 L1091.5,538.5 L1091.9,541.4 L1092.3,544.4 L1092.7,547.4 L1093.1,550.4 L1093.5,553.4 L1093.8,556.4 L1094.2,559.4 L1094.6,562.3 L1095.0,565.3 L1095.4,568.3 L1095.8,571.3 L1096.2,574.3 L1096.5,577.3 L1096.9,580.2 L1097.3,583.2 L1097.7,586.2 L1098.1,589.2 L1098.5,592.2 L1098.9,595.2 L1099.3,598.1 L1099.7,601.1 L1100.1,604.1 L1100.5,607.1 L1100.9,610.1 L1101.4,613.0 L1101.8,616.0 L1102.2,619.0 L1102.6,622.0 L1103.1,624.9 L1103.5,627.9 L1104.0,630.9 L1104.4,633.8 L1104.9,636.8 L1105.3,639.8 L1105.8,642.7 L1106.3,645.7 L1106.8,648.7 L1107.3,651.6 L1107.8,654.6 L1108.3,657.6 L1108.8,660.5 L1109.3,663.5 L1109.9,666.4 L1110.4,669.4 L1111.0,672.3 L1111.6,675.3 L1112.1,678.2 L1112.7,681.2 L1113.3,684.1 L1113.9,687.1 L1114.5,690.0 L1115.1,693.0 L1115.7,695.9 L1116.3,698.9 L1117.0,701.8 L1117.6,704.7 L1118.2,707.7 L1118.9,710.6 L1119.5,713.6 L1120.1,716.5 L1120.8,719.4 L1121.4,722.4 L1122.0,725.3 L1122.7,728.3 L1123.3,731.2 L1124.0,734.2 L1124.6,737.1 L1125.2,740.0 L1125.9,743.0 L1126.5,745.9 L1127.1,748.9 L1127.8,751.8 L1128.4,754.7 L1129.0,757.7 L1129.7,760.6 L1130.3,763.6 L1130.9,766.5 L1131.5,769.5 L1132.1,772.4 L1132.7,775.4 L1133.3,778.3 L1133.9,781.2 L1134.5,784.2 L1135.1,787.1 L1135.7,790.1 L1136.3,793.0 L1136.9,796.0 L1137.5,798.9 L1138.1,801.9 L1138.6,804.8 L1139.2,807.8 L1139.8,810.7 L1140.4,813.7 L1141.0,816.6 L1141.6,819.6 L1142.2,822.5 L1142.8,825.5 L1143.4,828.4 L1144.0,831.4 L1144.6,834.3 L1145.2,837.3 L1145.8,840.2 L1146.4,843.2 L1147.0,846.1 L1147.6,849.0 L1148.2,852.0 L1148.8,854.9 L1149.4,857.9 L1150.0,860.8 L1150.6,863.8 L1151.3,866.7 L1151.9,869.7 L1152.5,872.6 L1153.1,875.5 L1153.8,878.5 L1154.4,881.4 L1155.0,884.4 L1155.7,887.3 L1156.3,890.2 L1157.0,893.2 L1157.6,896.1 L1158.3,899.0 L1159.0,902.0 L1159.6,904.9 L1160.3,907.8 L1161.0,910.8 L1161.6,913.7 L1162.3,916.6 L1163.0,919.6 L1163.7,922.5 L1164.4,925.4 L1165.0,928.3 L1165.7,931.3 L1166.4,934.2 L1167.1,937.1 L1167.8,940.1 L1168.5,943.0 L1169.3,945.9 L1170.1,948.8 L1171.0,951.7 L1171.8,954.5 L1172.8,957.4 L1173.7,960.3 L1174.7,963.1 L1175.8,965.9 L1176.9,968.7 L1178.0,971.5 L1179.2,974.3 L1180.3,977.1 L1181.3,979.9 L1182.4,982.7 L1183.7,985.4 L1185.0,988.2 L1186.4,990.9 L1188.0,993.5 L1189.7,995.8 L1191.9,997.7 L1194.5,999.4 L1197.1,1001.0 L1199.7,1002.5 L1202.4,1003.9 L1205.2,1005.2 L1208.0,1006.3 L1210.8,1007.2 L1213.7,1007.9 L1216.6,1008.5 L1219.6,1009.1 L1222.6,1009.6 L1225.5,1010.1 L1228.5,1010.6 L1231.5,1011.1 L1234.5,1011.6 L1237.4,1012.0 L1240.4,1012.5 L1243.4,1012.9 L1246.4,1013.3 L1249.4,1013.7 L1252.3,1014.2 L1255.3,1014.7 L1258.3,1015.2 L1261.2,1015.7 L1264.2,1016.3 L1267.1,1016.8 L1270.1,1017.4 L1273.0,1018.0 L1276.0,1018.7 L1278.9,1019.3 L1281.8,1020.1 L1284.7,1020.9 L1287.6,1021.8 L1290.4,1022.7 L1293.3,1023.6 L1296.2,1024.4 L1299.1,1025.3 L1302.0,1026.1 L1304.9,1027.0 L1307.7,1027.8 L1310.6,1028.7 L1313.5,1029.7 L1316.4,1030.5 L1319.2,1031.4 L1322.1,1032.2 L1325.1,1032.9 L1328.0,1033.5 L1330.9,1034.1 L1333.9,1034.7 L1336.8,1035.3 L1339.8,1035.9 L1342.8,1036.4 L1345.7,1036.9 L1348.7,1037.4 L1351.7,1037.9 L1354.6,1038.3 L1357.6,1038.8 L1360.6,1039.2 L1363.6,1039.6 L1366.6,1040.0 L1369.5,1040.4 L1372.5,1040.8 L1375.5,1041.1 L1378.5,1041.5 L1381.5,1041.8 L1384.5,1042.1 L1387.5,1042.4 L1390.5,1042.7 L1393.4,1043.1 L1396.4,1043.4 L1399.4,1043.7 L1402.4,1044.1 L1405.4,1044.4 L1408.4,1044.7 L1411.4,1045.1 L1414.4,1045.4 L1417.4,1045.7 L1420.4,1046.0 L1423.4,1046.3 L1426.4,1046.6 L1429.4,1046.9 L1432.4,1047.1 L1435.4,1047.4 L1438.4,1047.6 L1441.4,1047.8 L1444.4,1048.0 L1447.4,1048.2 L1450.4,1048.4 L1453.4,1048.5 L1456.4,1048.6 L1459.4,1048.7 L1462.4,1048.8 L1465.4,1048.8 L1468.4,1048.8 L1471.4,1048.8 L1474.4,1048.8 L1477.4,1048.8 L1480.4,1048.8 L1483.4,1048.8 L1486.4,1048.8 L1489.4,1048.8 L1492.4,1048.8 L1495.4,1048.8 L1498.4,1048.8 L1501.4,1048.8 L1504.4,1048.8 L1507.4,1048.8 L1510.4,1048.8 L1513.4,1048.8 L1516.4,1048.8 L1519.4,1048.8 L1522.4,1048.8 L1525.4,1048.8 L1528.4,1048.8 L1531.5,1048.8 L1534.5,1048.8 L1537.5,1048.8 L1540.5,1048.8 L1543.5,1048.8 L1546.5,1048.8 L1549.5,1048.8 L1552.5,1048.8 L1555.5,1048.8 L1558.5,1048.8 L1561.5,1048.8 L1564.5,1048.8 L1567.5,1048.8 L1570.5,1048.8 L1573.5,1048.8 L1576.5,1048.8 L1579.5,1048.8 L1582.5,1048.8 L1585.5,1048.8 L1588.5,1048.8 L1591.5,1048.8 L1594.5,1048.8 L1597.5,1048.8 L1600.5,1048.8 L1603.6,1048.8 L1606.6,1048.8 L1609.6,1048.8 L1612.6,1048.8 L1615.6,1048.8 L1618.6,1048.8 L1621.6,1048.8 L1624.6,1048.8 L1627.6,1048.8 L1630.6,1048.8 L1633.6,1048.8 L1636.6,1048.8 L1639.6,1048.8 L1642.6,1048.8 L1645.6,1048.8 L1648.6,1048.8 L1651.7,1048.8 L1654.7,1048.8 L1657.7,1048.8 L1660.7,1048.8 L1663.7,1048.8 L1666.7,1048.8 L1669.7,1048.8 L1672.7,1048.8 L1675.7,1048.8 L1678.7,1048.8 L1681.7,1048.8 L1684.7,1048.8 L1687.8,1048.8 L1690.8,1048.8 L1693.8,1048.8 L1696.8,1048.8 L1699.8,1048.8 L1702.8,1048.8 L1705.8,1048.8 L1708.8,1048.8 L1711.8,1048.8 L1714.8,1048.8 L1717.9,1048.8 L1720.9,1048.8 L1723.9,1048.8 L1726.9,1048.8 L1729.9,1048.8 L1732.9,1048.8 L1735.9,1048.8 L1738.9,1048.8 L1741.9,1048.8 L1745.0,1048.8 L1748.0,1048.8 L1751.0,1048.8 L1754.0,1048.8 L1757.0,1048.8 L1760.0,1048.8 L1763.0,1048.8 L1766.0,1048.8 L1769.1,1048.8 L1772.1,1048.8 L1775.1,1048.8 L1778.1,1048.8 L1781.1,1048.8 L1784.1,1048.8 L1787.1,1048.8 L1790.2,1048.8 L1793.2,1048.8 L1796.2,1048.8 L1799.2,1048.8"/>
<path stroke="#7970B7" d="M299.0,93.3 L302.0,93.3 L305.0,93.3 L308.0,93.3 L311.0,93.3 L314.0,93.3 L317.0,93.3 L320.0,93.3 L323.1,93.3 L326.1,93.3 L329.1,93.4 L332.1,93.4 L335.1,93.4 L338.1,93.4 L341.1,93.4 L344.1,93.4 L347.1,93.4 L350.1,93.4 L353.1,93.4 L356.1,93.4 L359.1,93.4 L362.1,93.5 L365.1,93.5 L368.1,93.5 L371.2,93.5 L374.2,93.5 L377.2,93.5 L380.2,93.5 L383.2,93.6 L386.2,93.6 L389.2,93.6 L392.2,93.6 L395.2,93.6 L398.2,93.6 L401.2,93.6 L404.2,93.7 L407.2,93.7 L410.2,93.7 L413.2,93.7 L416.3,93.7 L419.3,93.7 L422.3,93.8 L425.3,93.8 L428.3,93.8 L431.3,93.8 L434.3,93.8 L437.3,93.8 L440.3,93.9 L443.3,93.9 L446.3,93.9 L449.3,93.9 L452.3,93.9 L455.3,94.0 L458.3,94.0 L461.3,94.0 L464.4,94.0 L467.4,94.1 L470.4,94.1 L473.4,94.1 L476.4,94.2 L479.4,94.2 L482.4,94.2 L485.4,94.3 L488.4,94.3 L491.4,94.3 L494.4,94.3 L497.4,94.4 L500.4,94.4 L503.4,94.4 L506.4,94.5 L509.4,94.5 L512.5,94.5 L515.5,94.6 L518.5,94.6 L521.5,94.6 L524.5,94.7 L527.5,94.7 L530.5,94.8 L533.5,94.8 L536.5,94.8 L539.5,94.9 L542.5,94.9 L545.5,94.9 L548.5,95.0 L551.5,95.0 L554.5,95.0 L557.5,95.1 L560.6,95.1 L563.6,95.1 L566.6,95.2 L569.6,95.2 L572.6,95.3 L575.6,95.3 L578.6,95.3 L581.6,95.4 L584.6,95.4 L587.6,95.4 L590.6,95.5 L593.6,95.5 L596.6,95.5 L599.6,95.6 L602.6,95.6 L605.6,95.6 L608.7,95.7 L611.7,95.7 L614.7,95.7 L617.7,95.8 L620.7,95.8 L623.7,95.9 L626.7,95.9 L629.7,95.9 L632.7,96.0 L635.7,96.0 L638.7,96.0 L641.7,96.1 L644.7,96.1 L647.7,96.2 L650.7,96.2 L653.7,96.2 L656.8,96.3 L659.8,96.3 L662.8,96.4 L665.8,96.4 L668.8,96.5 L671.8,96.5 L674.8,96.6 L677.8,96.6 L680.8,96.7 L683.8,96.7 L686.8,96.8 L689.8,96.8 L692.8,96.9 L695.8,96.9 L698.8,97.0 L701.8,97.0 L704.8,97.1 L707.9,97.2 L710.9,97.2 L713.9,97.3 L716.9,97.4 L719.9,97.4 L722.9,97.5 L725.9,97.6 L728.9,97.6 L731.9,97.7 L734.9,97.8 L737.9,97.9 L740.9,98.0 L743.9,98.1 L746.9,98.1 L749.9,98.2 L752.9,98.3 L755.9,98.4 L758.9,98.5 L762.0,98.6 L765.0,98.7 L768.0,98.8 L771.0,98.9 L774.0,99.0 L777.0,99.1 L780.0,99.2 L783.0,99.3 L786.0,99.4 L789.0,99.5 L792.0,99.6 L795.0,99.7 L798.0,99.8 L801.0,100.0 L804.0,100.1 L807.0,100.2 L810.0,100.3 L813.0,100.5 L816.0,100.6 L819.0,100.7 L822.0,100.9 L825.0,101.0 L828.0,101.2 L831.0,101.3 L834.1,101.5 L837.1,101.7 L840.0,101.9 L843.1,102.1 L846.1,102.3 L849.1,102.5 L852.1,102.8 L855.0,103.1 L858.0,103.4 L861.0,103.7 L864.0,104.1 L867.0,104.6 L869.9,105.1 L872.9,105.7 L875.8,106.3 L878.8,106.9 L881.7,107.5 L884.6,108.2 L887.6,108.9 L890.5,109.7 L893.4,110.5 L896.3,111.3 L899.2,112.3 L902.0,113.3 L904.7,114.4 L907.4,115.8 L910.0,117.3 L912.7,118.7 L915.4,120.0 L918.2,121.1 L921.0,122.2 L923.8,123.3 L926.5,124.6 L929.2,125.9 L931.9,127.3 L934.5,128.8 L937.1,130.3 L939.7,131.8 L942.3,133.5 L944.7,135.2 L947.0,137.1 L949.2,139.1 L951.3,141.3 L953.3,143.5 L955.3,145.8 L957.3,148.1 L959.2,150.3 L961.2,152.6 L963.2,154.9 L965.1,157.2 L966.9,159.6 L968.7,162.0 L970.4,164.5 L972.1,167.0 L973.8,169.5 L975.4,172.0 L977.0,174.6 L978.5,177.2 L980.0,179.8 L981.5,182.4 L983.0,185.0 L984.4,187.7 L985.8,190.4 L987.1,193.1 L988.3,195.8 L989.4,198.6 L990.4,201.4 L991.3,204.3 L992.1,207.2 L992.9,210.1 L993.7,213.0 L994.5,215.9 L995.3,218.8 L996.1,221.7 L997.0,224.6 L998.0,227.4 L999.0,230.3 L1000.0,233.1 L1001.0,235.9 L1002.1,238.7 L1003.2,241.5 L1004.3,244.3 L1005.3,247.2 L1006.4,250.0 L1007.5,252.8 L1008.5,255.6 L1009.5,258.5 L1010.4,261.3 L1011.3,264.2 L1012.2,267.0 L1013.0,269.9 L1013.8,272.8 L1014.6,275.7 L1015.3,278.6 L1016.1,281.5 L1016.8,284.5 L1017.5,287.4 L1018.2,290.3 L1018.9,293.2 L1019.6,296.2 L1020.3,299.1 L1021.0,302.0 L1021.7,304.9 L1022.4,307.9 L1023.1,310.8 L1023.9,313.7 L1024.6,316.6 L1025.3,319.5 L1026.0,322.5 L1026.7,325.4 L1027.5,328.3 L1028.2,331.2 L1028.9,334.1 L1029.7,337.0 L1030.5,339.9 L1031.3,342.8 L1032.2,345.7 L1033.0,348.6 L1033.8,351.5 L1034.4,354.4 L1035.1,357.3 L1035.8,360.3 L1036.4,363.2 L1037.0,366.1 L1037.7,369.1 L1038.3,372.0 L1038.9,375.0 L1039.5,377.9 L1040.0,380.9 L1040.6,383.8 L1041.2,386.8 L1041.7,389.8 L1042.2,392.7 L1042.7,395.7 L1043.3,398.7 L1043.8,401.6 L1044.2,404.6 L1044.7,407.6 L1045.2,410.6 L1045.6,413.5 L1046.1,416.5 L1046.5,419.5 L1047.0,422.5 L1047.4,425.4 L1047.8,428.4 L1048.2,431.4 L1048.6,434.4 L1048.9,437.3 L1049.3,440.3 L1049.6,443.3 L1050.0,446.3 L1050.3,449.3 L1050.6,452.3 L1050.9,455.3 L1051.2,458.3 L1051.5,461.3 L1051.8,464.3 L1052.1,467.2 L1052.3,470.2 L1052.6,473.2 L1052.9,476.2 L1053.2,479.2 L1053.5,482.2 L1053.8,485.2 L1054.1,488.2 L1054.4,491.2 L1054.7,494.2 L1055.0,497.2 L1055.3,500.2 L1055.7,503.2 L1056.0,506.1 L1056.4,509.1 L1056.8,512.1 L1057.2,515.1 L1057.6,518.1 L1058.0,521.0 L1058.4,524.0 L1058.8,527.0 L1059.3,530.0 L1059.7,532.9 L1060.2,535.9 L1060.7,538.9 L1061.1,541.8 L1061.6,544.8 L1062.1,547.8 L1062.6,550.7 L1063.1,553.7 L1063.6,556.7 L1064.1,559.6 L1064.6,562.6 L1065.1,565.5 L1065.6,568.5 L1066.2,571.5 L1066.7,574.4 L1067.2,577.4 L1067.8,580.3 L1068.3,583.3 L1068.8,586.3 L1069.4,589.2 L1069.9,592.2 L1070.5,595.1 L1071.0,598.1 L1071.5,601.1 L1072.1,604.0 L1072.6,607.0 L1073.1,610.0 L1073.7,612.9 L1074.2,615.9 L1074.7,618.8 L1075.2,621.8 L1075.8,624.8 L1076.3,627.7 L1076.8,630.7 L1077.3,633.7 L1077.8,636.6 L1078.3,639.6 L1078.8,642.5 L1079.3,645.5 L1079.8,648.5 L1080.2,651.5 L1080.7,654.4 L1081.2,657.4 L1081.6,660.4 L1082.1,663.3 L1082.5,666.3 L1083.0,669.3 L1083.4,672.3 L1083.9,675.2 L1084.3,678.2 L1084.7,681.2 L1085.2,684.2 L1085.6,687.1 L1086.0,690.1 L1086.5,693.1 L1086.9,696.1 L1087.3,699.0 L1087.8,702.0 L1088.2,705.0 L1088.6,708.0 L1089.1,710.9 L1089.5,713.9 L1089.9,716.9 L1090.4,719.9 L1090.8,722.8 L1091.2,725.8 L1091.7,728.8 L1092.1,731.8 L1092.6,734.7 L1093.0,737.7 L1093.5,740.7 L1093.9,743.7 L1094.4,746.6 L1094.8,749.6 L1095.3,752.6 L1095.7,755.5 L1096.2,758.5 L1096.7,761.5 L1097.2,764.4 L1097.7,767.4 L1098.2,770.4 L1098.7,773.3 L1099.2,776.3 L1099.7,779.3 L1100.2,782.2 L1100.7,785.2 L1101.2,788.1 L1101.7,791.1 L1102.3,794.1 L1102.8,797.0 L1103.3,800.0 L1103.9,802.9 L1104.4,805.9 L1104.9,808.8 L1105.5,811.8 L1106.0,814.8 L1106.6,817.7 L1107.2,820.7 L1107.7,823.6 L1108.3,826.6 L1108.8,829.5 L1109.4,832.5 L1110.0,835.4 L1110.5,838.4 L1111.1,841.4 L1111.7,844.3 L1112.2,847.3 L1112.8,850.2 L1113.4,853.2 L1113.9,856.1 L1114.5,859.1 L1115.1,862.0 L1115.7,865.0 L1116.2,867.9 L1116.8,870.9 L1117.4,873.8 L1118.0,876.8 L1118.5,879.7 L1119.1,882.7 L1119.7,885.6 L1120.3,888.6 L1120.8,891.5 L1121.4,894.5 L1122.0,897.4 L1122.6,900.4 L1123.2,903.3 L1123.8,906.3 L1124.4,909.2 L1125.1,912.1 L1125.7,915.1 L1126.3,918.0 L1127.0,921.0 L1127.6,923.9 L1128.2,926.9 L1128.9,929.8 L1129.6,932.8 L1130.3,935.7 L1131.0,938.6 L1131.8,941.5 L1132.6,944.3 L1133.5,947.2 L1134.4,950.1 L1135.4,952.9 L1136.4,955.8 L1137.4,958.7 L1138.5,961.5 L1139.6,964.3 L1140.8,967.1 L1142.1,969.8 L1143.4,972.5 L1144.7,975.2 L1146.1,977.8 L1147.6,980.3 L1149.3,982.8 L1151.1,985.3 L1153.0,987.7 L1154.9,990.0 L1156.8,992.3 L1158.8,994.6 L1160.8,997.0 L1162.8,999.3 L1164.9,1001.7 L1167.0,1003.9 L1169.2,1006.0 L1171.5,1007.9 L1173.9,1009.5 L1176.4,1010.9 L1179.0,1012.0 L1181.8,1013.1 L1184.7,1014.0 L1187.7,1014.9 L1190.7,1015.6 L1193.7,1016.3 L1196.6,1016.8 L1199.6,1017.3 L1202.5,1017.7 L1205.5,1018.1 L1208.5,1018.4 L1211.5,1018.8 L1214.5,1019.1 L1217.5,1019.5 L1220.5,1019.8 L1223.5,1020.1 L1226.5,1020.4 L1229.5,1020.7 L1232.5,1021.0 L1235.4,1021.2 L1238.4,1021.5 L1241.4,1021.8 L1244.4,1022.0 L1247.4,1022.3 L1250.4,1022.5 L1253.4,1022.7 L1256.4,1022.9 L1259.4,1023.1 L1262.4,1023.3 L1265.4,1023.5 L1268.4,1023.8 L1271.4,1024.0 L1274.4,1024.3 L1277.4,1024.6 L1280.4,1024.9 L1283.4,1025.3 L1286.4,1025.7 L1289.3,1026.1 L1292.3,1026.5 L1295.3,1026.9 L1298.3,1027.3 L1301.3,1027.7 L1304.2,1028.0 L1307.2,1028.4 L1310.2,1028.8 L1313.2,1029.1 L1316.2,1029.5 L1319.2,1029.8 L1322.2,1030.2 L1325.1,1030.5 L1328.1,1030.9 L1331.1,1031.2 L1334.1,1031.6 L1337.1,1032.0 L1340.1,1032.4 L1343.0,1032.8 L1346.0,1033.2 L1349.0,1033.6 L1352.0,1034.0 L1354.9,1034.4 L1357.9,1034.9 L1360.9,1035.4 L1363.8,1035.9 L1366.8,1036.4 L1369.8,1037.0 L1372.7,1037.4 L1375.7,1037.9 L1378.7,1038.4 L1381.7,1038.8 L1384.6,1039.1 L1387.6,1039.5 L1390.6,1039.9 L1393.6,1040.2 L1396.6,1040.6 L1399.6,1041.0 L1402.5,1041.3 L1405.5,1041.7 L1408.5,1042.1 L1411.5,1042.4 L1414.5,1042.8 L1417.5,1043.1 L1420.5,1043.5 L1423.5,1043.8 L1426.5,1044.1 L1429.5,1044.4 L1432.5,1044.7 L1435.5,1045.0 L1438.5,1045.2 L1441.5,1045.5 L1444.5,1045.7 L1447.5,1045.9 L1450.5,1046.0 L1453.5,1046.2 L1456.5,1046.3 L1459.5,1046.4 L1462.5,1046.5 L1465.5,1046.5 L1468.5,1046.5 L1471.5,1046.5 L1474.5,1046.5 L1477.5,1046.5 L1480.5,1046.5 L1483.5,1046.5 L1486.5,1046.5 L1489.5,1046.5 L1492.5,1046.5 L1495.5,1046.5 L1498.5,1046.5 L1501.5,1046.5 L1504.5,1046.5 L1507.5,1046.5 L1510.5,1046.5 L1513.5,1046.5 L1516.5,1046.5 L1519.5,1046.5 L1522.5,1046.5 L1525.5,1046.5 L1528.5,1046.5 L1531.5,1046.5 L1534.5,1046.5 L1537.5,1046.5 L1540.5,1046.5 L1543.5,1046.5 L1546.5,1046.5 L1549.5,1046.5 L1552.5,1046.5 L1555.5,1046.5 L1558.5,1046.5 L1561.5,1046.5 L1564.5,1046.5 L1567.5,1046.5 L1570.5,1046.5 L1573.5,1046.5 L1576.5,1046.5 L1579.5,1046.5 L1582.5,1046.5 L1585.5,1046.5 L1588.5,1046.5 L1591.5,1046.5 L1594.5,1046.5 L1597.6,1046.5 L1600.6,1046.5 L1603.6,1046.5 L1606.6,1046.5 L1609.6,1046.5 L1612.6,1046.5 L1615.6,1046.5 L1618.6,1046.5 L1621.6,1046.5 L1624.6,1046.5 L1627.6,1046.5 L1630.6,1046.5 L1633.6,1046.5 L1636.6,1046.5 L1639.6,1046.5 L1642.6,1046.5 L1645.6,1046.5 L1648.6,1046.5 L1651.7,1046.5 L1654.7,1046.5 L1657.7,1046.5 L1660.7,1046.5 L1663.7,1046.5 L1666.7,1046.5 L1669.7,1046.5 L1672.7,1046.5 L1675.7,1046.5 L1678.7,1046.5 L1681.7,1046.5 L1684.7,1046.5 L1687.7,1046.5 L1690.8,1046.5 L1693.8,1046.5 L1696.8,1046.5 L1699.8,1046.5 L1702.8,1046.5 L1705.8,1046.5 L1708.8,1046.5 L1711.8,1046.5 L1714.8,1046.5 L1717.8,1046.5 L1720.9,1046.5 L1723.9,1046.5 L1726.9,1046.5 L1729.9,1046.5 L1732.9,1046.5 L1735.9,1046.5 L1738.9,1046.5 L1741.9,1046.5 L1744.9,1046.5 L1748.0,1046.5 L1751.0,1046.5 L1754.0,1046.5 L1757.0,1046.5 L1760.0,1046.5 L1763.0,1046.5 L1766.0,1046.5 L1769.0,1046.5 L1772.1,1046.5 L1775.1,1046.5 L1778.1,1046.5 L1781.1,1046.5 L1784.1,1046.5 L1787.1,1046.5 L1790.2,1046.5 L1793.2,1046.5 L1796.2,1046.5 L1799.2,1046.5"/>
<path stroke="#F9AC00" d="M299.0,93.0 L302.0,93.0 L305.0,93.0 L308.0,93.0 L311.0,93.0 L314.0,93.0 L317.0,93.0 L320.0,93.0 L323.1,93.0 L326.1,93.0 L329.1,93.1 L332.1,93.1 L335.1,93.1 L338.1,93.1 L341.1,93.1 L344.1,93.1 L347.1,93.1 L350.1,93.1 L353.1,93.1 L356.1,93.1 L359.1,93.2 L362.1,93.2 L365.2,93.2 L368.2,93.2 L371.2,93.2 L374.2,93.2 L377.2,93.2 L380.2,93.2 L383.2,93.3 L386.2,93.3 L389.2,93.3 L392.2,93.3 L395.2,93.3 L398.2,93.3 L401.2,93.3 L404.2,93.4 L407.2,93.4 L410.3,93.4 L413.3,93.4 L416.3,93.4 L419.3,93.4 L422.3,93.5 L425.3,93.5 L428.3,93.5 L431.3,93.5 L434.3,93.5 L437.3,93.5 L440.3,93.6 L443.3,93.6 L446.3,93.6 L449.3,93.6 L452.4,93.6 L455.4,93.7 L458.4,93.7 L461.4,93.7 L464.4,93.7 L467.4,93.8 L470.4,93.8 L473.4,93.8 L476.4,93.8 L479.4,93.9 L482.4,93.9 L485.4,93.9 L488.4,93.9 L491.4,94.0 L494.4,94.0 L497.5,94.0 L500.5,94.1 L503.5,94.1 L506.5,94.1 L509.5,94.2 L512.5,94.2 L515.5,94.2 L518.5,94.2 L521.5,94.3 L524.5,94.3 L527.5,94.3 L530.5,94.4 L533.5,94.4 L536.5,94.4 L539.6,94.5 L542.6,94.5 L545.6,94.5 L548.6,94.6 L551.6,94.6 L554.6,94.6 L557.6,94.7 L560.6,94.7 L563.6,94.7 L566.6,94.8 L569.6,94.8 L572.6,94.9 L575.6,94.9 L578.6,94.9 L581.6,95.0 L584.7,95.0 L587.7,95.0 L590.7,95.1 L593.7,95.1 L596.7,95.1 L599.7,95.2 L602.7,95.2 L605.7,95.2 L608.7,95.3 L611.7,95.3 L614.7,95.3 L617.7,95.4 L620.7,95.4 L623.7,95.5 L626.7,95.5 L629.8,95.5 L632.8,95.6 L635.8,95.6 L638.8,95.7 L641.8,95.7 L644.8,95.7 L647.8,95.8 L650.8,95.8 L653.8,95.9 L656.8,95.9 L659.8,96.0 L662.8,96.0 L665.8,96.1 L668.8,96.1 L671.8,96.2 L674.9,96.2 L677.9,96.3 L680.9,96.3 L683.9,96.4 L686.9,96.4 L689.9,96.5 L692.9,96.6 L695.9,96.6 L698.9,96.7 L701.9,96.7 L704.9,96.8 L707.9,96.9 L710.9,97.0 L713.9,97.0 L716.9,97.1 L719.9,97.2 L722.9,97.3 L726.0,97.4 L729.0,97.5 L732.0,97.6 L735.0,97.7 L738.0,97.8 L741.0,97.9 L744.0,98.0 L747.0,98.1 L750.0,98.3 L753.0,98.4 L756.0,98.5 L759.0,98.6 L762.0,98.7 L765.0,98.8 L768.0,98.9 L771.0,99.1 L774.0,99.2 L777.0,99.3 L780.0,99.4 L783.1,99.5 L786.1,99.6 L789.1,99.7 L792.1,99.8 L795.1,100.0 L798.1,100.1 L801.1,100.2 L804.1,100.3 L807.1,100.5 L810.1,100.6 L813.1,100.8 L816.1,100.9 L819.1,101.1 L822.1,101.3 L825.1,101.5 L828.1,101.6 L831.1,101.8 L834.1,102.1 L837.1,102.3 L840.1,102.5 L843.1,102.7 L846.1,102.9 L849.1,103.2 L852.1,103.4 L855.1,103.7 L858.1,104.0 L861.1,104.3 L864.1,104.7 L867.0,105.2 L870.0,105.7 L873.0,106.2 L875.9,106.8 L878.8,107.5 L881.7,108.3 L884.5,109.3 L887.3,110.5 L890.1,111.7 L892.8,113.0 L895.5,114.3 L898.2,115.6 L900.9,117.0 L903.5,118.4 L906.1,120.0 L908.5,121.7 L911.0,123.5 L913.4,125.4 L915.7,127.2 L918.0,129.2 L920.2,131.2 L922.4,133.3 L924.6,135.4 L926.7,137.5 L928.9,139.6 L931.0,141.7 L933.1,143.9 L935.2,146.1 L937.2,148.3 L939.2,150.5 L941.2,152.8 L943.2,155.0 L945.1,157.4 L947.0,159.7 L948.8,162.0 L950.7,164.4 L952.5,166.8 L954.3,169.3 L956.0,171.7 L957.6,174.2 L959.3,176.7 L960.9,179.3 L962.5,181.9 L964.0,184.4 L965.5,187.1 L967.0,189.7 L968.3,192.3 L969.6,195.0 L970.9,197.8 L972.1,200.5 L973.3,203.3 L974.5,206.1 L975.7,208.8 L976.9,211.6 L978.2,214.3 L979.7,216.9 L981.2,219.5 L982.6,222.2 L983.8,224.9 L984.9,227.7 L985.8,230.6 L986.8,233.4 L987.7,236.3 L988.6,239.2 L989.6,242.0 L990.6,244.9 L991.6,247.7 L992.6,250.6 L993.5,253.4 L994.5,256.3 L995.4,259.1 L996.4,262.0 L997.3,264.8 L998.1,267.7 L998.9,270.6 L999.8,273.5 L1000.6,276.4 L1001.3,279.3 L1002.1,282.2 L1002.9,285.1 L1003.6,288.0 L1004.4,290.9 L1005.1,293.9 L1005.8,296.8 L1006.6,299.7 L1007.3,302.6 L1008.0,305.5 L1008.8,308.4 L1009.5,311.4 L1010.2,314.3 L1010.9,317.2 L1011.6,320.1 L1012.2,323.1 L1012.9,326.0 L1013.6,328.9 L1014.3,331.9 L1015.1,334.8 L1015.8,337.7 L1016.7,340.6 L1017.6,343.4 L1018.6,346.3 L1019.6,349.1 L1020.3,352.0 L1021.1,354.9 L1021.8,357.8 L1022.5,360.7 L1023.2,363.6 L1023.9,366.6 L1024.6,369.5 L1025.3,372.4 L1025.9,375.4 L1026.5,378.3 L1027.2,381.2 L1027.8,384.2 L1028.4,387.1 L1028.9,390.1 L1029.5,393.1 L1030.1,396.0 L1030.6,399.0 L1031.2,402.0 L1031.7,404.9 L1032.2,407.9 L1032.8,410.9 L1033.3,413.8 L1033.8,416.8 L1034.3,419.8 L1034.8,422.7 L1035.3,425.7 L1035.8,428.7 L1036.3,431.6 L1036.7,434.6 L1037.2,437.6 L1037.7,440.5 L1038.1,443.5 L1038.6,446.5 L1039.0,449.4 L1039.5,452.4 L1039.9,455.4 L1040.3,458.4 L1040.7,461.3 L1041.1,464.3 L1041.6,467.3 L1042.0,470.3 L1042.4,473.3 L1042.8,476.2 L1043.1,479.2 L1043.5,482.2 L1043.9,485.2 L1044.3,488.2 L1044.7,491.2 L1045.1,494.1 L1045.5,497.1 L1045.9,500.1 L1046.3,503.1 L1046.7,506.1 L1047.1,509.1 L1047.5,512.0 L1047.9,515.0 L1048.3,518.0 L1048.7,521.0 L1049.1,524.0 L1049.4,526.9 L1049.8,529.9 L1050.2,532.9 L1050.6,535.9 L1051.0,538.9 L1051.4,541.8 L1051.8,544.8 L1052.2,547.8 L1052.5,550.8 L1052.9,553.8 L1053.3,556.8 L1053.7,559.7 L1054.1,562.7 L1054.4,565.7 L1054.8,568.7 L1055.2,571.7 L1055.6,574.7 L1055.9,577.6 L1056.3,580.6 L1056.7,583.6 L1057.1,586.6 L1057.4,589.6 L1057.8,592.6 L1058.2,595.5 L1058.6,598.5 L1058.9,601.5 L1059.3,604.5 L1059.7,607.5 L1060.0,610.5 L1060.4,613.4 L1060.8,616.4 L1061.2,619.4 L1061.5,622.4 L1061.9,625.4 L1062.3,628.4 L1062.7,631.4 L1063.0,634.3 L1063.4,637.3 L1063.8,640.3 L1064.2,643.3 L1064.5,646.3 L1064.9,649.3 L1065.3,652.2 L1065.7,655.2 L1066.0,658.2 L1066.4,661.2 L1066.8,664.2 L1067.2,667.2 L1067.5,670.1 L1067.9,673.1 L1068.3,676.1 L1068.7,679.1 L1069.0,682.1 L1069.4,685.1 L1069.8,688.0 L1070.2,691.0 L1070.5,694.0 L1070.9,697.0 L1071.3,700.0 L1071.7,703.0 L1072.0,705.9 L1072.4,708.9 L1072.8,711.9 L1073.1,714.9 L1073.5,717.9 L1073.9,720.9 L1074.3,723.8 L1074.6,726.8 L1075.0,729.8 L1075.4,732.8 L1075.7,735.8 L1076.1,738.8 L1076.5,741.7 L1076.9,744.7 L1077.2,747.7 L1077.6,750.7 L1078.0,753.7 L1078.3,756.7 L1078.7,759.6 L1079.1,762.6 L1079.5,765.6 L1079.8,768.6 L1080.2,771.6 L1080.6,774.6 L1080.9,777.6 L1081.3,780.5 L1081.6,783.5 L1082.0,786.5 L1082.3,789.5 L1082.7,792.5 L1083.0,795.5 L1083.3,798.5 L1083.7,801.5 L1084.0,804.5 L1084.4,807.4 L1084.7,810.4 L1085.0,813.4 L1085.4,816.4 L1085.7,819.4 L1086.1,822.4 L1086.4,825.4 L1086.7,828.4 L1087.1,831.4 L1087.4,834.3 L1087.8,837.3 L1088.2,840.3 L1088.5,843.3 L1088.9,846.3 L1089.3,849.3 L1089.6,852.2 L1090.0,855.2 L1090.4,858.2 L1090.8,861.2 L1091.2,864.2 L1091.6,867.1 L1092.0,870.1 L1092.5,873.1 L1092.9,876.1 L1093.4,879.0 L1093.8,882.0 L1094.3,885.0 L1094.9,887.9 L1095.4,890.9 L1096.0,893.8 L1096.5,896.8 L1097.0,899.8 L1097.5,902.7 L1098.0,905.7 L1098.5,908.7 L1099.0,911.6 L1099.6,914.6 L1100.1,917.5 L1100.7,920.5 L1101.3,923.4 L1102.0,926.3 L1102.7,929.3 L1103.5,932.2 L1104.2,935.1 L1105.0,938.0 L1105.8,940.9 L1106.6,943.8 L1107.4,946.7 L1108.1,949.6 L1108.9,952.5 L1109.7,955.4 L1110.5,958.3 L1111.3,961.2 L1112.2,964.1 L1113.0,967.0 L1113.8,969.9 L1114.7,972.8 L1115.5,975.7 L1116.4,978.6 L1117.2,981.5 L1118.1,984.4 L1119.1,987.2 L1120.2,989.9 L1121.6,992.6 L1123.1,995.2 L1124.8,997.7 L1126.6,1000.1 L1128.6,1002.4 L1130.8,1004.5 L1133.0,1006.5 L1135.3,1008.6 L1137.7,1010.4 L1140.2,1011.9 L1142.9,1013.2 L1145.7,1014.3 L1148.6,1015.2 L1151.5,1016.0 L1154.4,1016.7 L1157.4,1017.3 L1160.3,1017.8 L1163.3,1018.3 L1166.3,1018.7 L1169.3,1019.2 L1172.3,1019.5 L1175.3,1019.9 L1178.2,1020.3 L1181.2,1020.6 L1184.2,1020.9 L1187.2,1021.2 L1190.2,1021.5 L1193.2,1021.7 L1196.2,1022.0 L1199.2,1022.3 L1202.2,1022.5 L1205.2,1022.8 L1208.2,1023.0 L1211.2,1023.3 L1214.2,1023.5 L1217.2,1023.8 L1220.2,1024.0 L1223.2,1024.3 L1226.2,1024.6 L1229.2,1024.8 L1232.2,1025.1 L1235.2,1025.3 L1238.1,1025.5 L1241.1,1025.8 L1244.1,1026.0 L1247.1,1026.3 L1250.1,1026.5 L1253.1,1026.7 L1256.1,1026.9 L1259.1,1027.2 L1262.1,1027.4 L1265.1,1027.6 L1268.1,1027.8 L1271.1,1028.1 L1274.1,1028.3 L1277.1,1028.6 L1280.1,1028.8 L1283.1,1029.1 L1286.1,1029.4 L1289.1,1029.7 L1292.1,1030.0 L1295.1,1030.3 L1298.1,1030.6 L1301.1,1030.9 L1304.1,1031.2 L1307.0,1031.5 L1310.0,1031.7 L1313.0,1032.0 L1316.0,1032.2 L1319.0,1032.5 L1322.0,1032.7 L1325.0,1032.9 L1328.0,1033.2 L1331.0,1033.4 L1334.0,1033.7 L1337.0,1033.9 L1340.0,1034.2 L1343.0,1034.5 L1346.0,1034.8 L1349.0,1035.1 L1352.0,1035.4 L1355.0,1035.8 L1357.9,1036.3 L1360.9,1036.8 L1363.9,1037.3 L1366.8,1037.8 L1369.8,1038.3 L1372.8,1038.9 L1375.7,1039.4 L1378.7,1039.8 L1381.7,1040.3 L1384.6,1040.6 L1387.6,1041.0 L1390.6,1041.4 L1393.6,1041.8 L1396.6,1042.2 L1399.6,1042.6 L1402.5,1043.0 L1405.5,1043.4 L1408.5,1043.8 L1411.5,1044.2 L1414.5,1044.6 L1417.5,1045.0 L1420.5,1045.4 L1423.5,1045.8 L1426.5,1046.1 L1429.5,1046.5 L1432.5,1046.8 L1435.5,1047.1 L1438.5,1047.4 L1441.5,1047.6 L1444.4,1047.9 L1447.4,1048.1 L1450.4,1048.3 L1453.4,1048.4 L1456.4,1048.6 L1459.4,1048.7 L1462.4,1048.8 L1465.4,1048.8 L1468.4,1048.8 L1471.4,1048.8 L1474.4,1048.8 L1477.4,1048.8 L1480.4,1048.8 L1483.4,1048.8 L1486.4,1048.8 L1489.4,1048.8 L1492.4,1048.8 L1495.4,1048.8 L1498.4,1048.8 L1501.4,1048.8 L1504.4,1048.8 L1507.4,1048.8 L1510.4,1048.8 L1513.4,1048.8 L1516.4,1048.8 L1519.4,1048.8 L1522.4,1048.8 L1525.4,1048.8 L1528.4,1048.8 L1531.4,1048.8 L1534.4,1048.8 L1537.4,1048.8 L1540.4,1048.8 L1543.4,1048.8 L1546.4,1048.8 L1549.4,1048.8 L1552.4,1048.8 L1555.4,1048.8 L1558.4,1048.8 L1561.4,1048.8 L1564.4,1048.8 L1567.4,1048.8 L1570.4,1048.8 L1573.4,1048.8 L1576.4,1048.8 L1579.4,1048.8 L1582.5,1048.8 L1585.5,1048.8 L1588.5,1048.8 L1591.5,1048.8 L1594.5,1048.8 L1597.5,1048.8 L1600.5,1048.8 L1603.5,1048.8 L1606.5,1048.8 L1609.5,1048.8 L1612.5,1048.8 L1615.5,1048.8 L1618.5,1048.8 L1621.5,1048.8 L1624.5,1048.8 L1627.5,1048.8 L1630.5,1048.8 L1633.5,1048.8 L1636.5,1048.8 L1639.5,1048.8 L1642.6,1048.8 L1645.6,1048.8 L1648.6,1048.8 L1651.6,1048.8 L1654.6,1048.8 L1657.6,1048.8 L1660.6,1048.8 L1663.6,1048.8 L1666.6,1048.8 L1669.6,1048.8 L1672.6,1048.8 L1675.6,1048.8 L1678.6,1048.8 L1681.7,1048.8 L1684.7,1048.8 L1687.7,1048.8 L1690.7,1048.8 L1693.7,1048.8 L1696.7,1048.8 L1699.7,1048.8 L1702.7,1048.8 L1705.7,1048.8 L1708.8,1048.8 L1711.8,1048.8 L1714.8,1048.8 L1717.8,1048.8 L1720.8,1048.8 L1723.8,1048.8 L1726.8,1048.8 L1729.8,1048.8 L1732.8,1048.8 L1735.9,1048.8 L1738.9,1048.8 L1741.9,1048.8 L1744.9,1048.8 L1747.9,1048.8 L1750.9,1048.8 L1753.9,1048.8 L1757.0,1048.8 L1760.0,1048.8 L1763.0,1048.8 L1766.0,1048.8 L1769.0,1048.8 L1772.0,1048.8 L1775.1,1048.8 L1778.1,1048.8 L1781.1,1048.8 L1784.1,1048.8 L1787.1,1048.8 L1790.1,1048.8 L1793.2,1048.8 L1796.2,1048.8 L1799.2,1048.8"/>
</g>
<g fill="none" stroke-width="16.2" stroke-linejoin="round" clip-path="url(#ci)">
<path stroke="#515151" d="M1250.0,99.0 L1252.2,100.2 L1254.5,101.4 L1256.7,102.5 L1259.0,103.6 L1261.3,104.7 L1263.5,105.9 L1265.7,107.1 L1267.9,108.3 L1270.1,109.7 L1272.2,111.0 L1274.3,112.5 L1276.4,114.0 L1278.3,115.6 L1280.0,117.3 L1281.7,119.2 L1283.3,121.2 L1284.9,123.2 L1286.5,125.1 L1288.2,127.0 L1289.9,129.0 L1291.6,130.8 L1293.4,132.5 L1295.4,134.0 L1297.6,135.3 L1299.8,136.7 L1301.9,137.9 L1304.1,139.2 L1306.4,140.3 L1308.6,141.5 L1310.8,142.8 L1312.9,144.2 L1315.0,145.6 L1317.0,147.1 L1319.0,148.7 L1321.0,150.2 L1323.0,151.8 L1324.9,153.5 L1326.8,155.2 L1328.5,157.0 L1330.2,158.8 L1331.8,160.8 L1333.4,162.7 L1335.1,164.7 L1336.8,166.5 L1338.6,168.3 L1340.4,170.0 L1342.2,171.8 L1344.0,173.6 L1345.6,175.5 L1347.2,177.5 L1348.7,179.5 L1350.2,181.6 L1351.7,183.6 L1353.3,185.5 L1355.0,187.4 L1356.8,189.2 L1358.6,191.0 L1360.3,192.8 L1362.1,194.7 L1363.7,196.6 L1365.2,198.6 L1366.8,200.6 L1368.3,202.6 L1369.9,204.5 L1371.5,206.5 L1373.2,208.4 L1374.8,210.3 L1376.5,212.2 L1378.2,214.1 L1379.8,216.0 L1381.4,218.0 L1383.0,219.9 L1384.6,221.9 L1386.1,223.9 L1387.7,225.9 L1389.3,227.8 L1390.9,229.8 L1392.4,231.8 L1394.0,233.7 L1395.6,235.7 L1397.2,237.7 L1398.8,239.6 L1400.4,241.6 L1402.0,243.6 L1403.5,245.5 L1405.1,247.5 L1406.7,249.5 L1408.2,251.5 L1409.8,253.5 L1411.3,255.5 L1412.8,257.5 L1414.4,259.5 L1415.9,261.5 L1417.4,263.5 L1419.0,265.5 L1420.5,267.5 L1422.0,269.6 L1423.5,271.6 L1425.0,273.6 L1426.5,275.6 L1428.0,277.7 L1429.5,279.7 L1431.0,281.8 L1432.4,283.8 L1433.9,285.9 L1435.3,288.0 L1436.7,290.1 L1438.1,292.2 L1439.6,294.2 L1441.0,296.3 L1442.5,298.4 L1444.0,300.4 L1445.5,302.4 L1447.0,304.4 L1448.5,306.5 L1450.0,308.5 L1451.5,310.5 L1452.9,312.6 L1454.3,314.8 L1455.6,316.9 L1457.0,319.0 L1458.3,321.2 L1459.5,323.4 L1460.8,325.6 L1462.0,327.8 L1463.2,330.0 L1464.3,332.3 L1465.4,334.6 L1466.5,336.9 L1467.6,339.1 L1468.7,341.4 L1469.9,343.6 L1471.2,345.8 L1472.5,348.0 L1473.8,350.1 L1475.1,352.3 L1476.4,354.4 L1477.7,356.6 L1479.0,358.8 L1480.3,360.9 L1481.7,363.1 L1483.0,365.2 L1484.3,367.4 L1485.7,369.5 L1486.9,371.7 L1488.2,373.9 L1489.4,376.1 L1490.6,378.3 L1491.7,380.6 L1492.9,382.8 L1494.0,385.1 L1495.1,387.4 L1496.2,389.6 L1497.3,391.9 L1498.4,394.2 L1499.6,396.4 L1500.7,398.7 L1501.8,400.9 L1503.0,403.2 L1504.1,405.5 L1505.2,407.7 L1506.2,410.0 L1507.3,412.3 L1508.3,414.6 L1509.3,416.9 L1510.4,419.2 L1511.4,421.6 L1512.4,423.9 L1513.5,426.2 L1514.5,428.5 L1515.5,430.8 L1516.5,433.1 L1517.6,435.4 L1518.6,437.7 L1519.7,440.0 L1520.9,442.2 L1522.1,444.4 L1523.3,446.6 L1524.6,448.8 L1525.8,451.0 L1527.0,453.2 L1528.2,455.4 L1529.4,457.7 L1530.6,459.9 L1531.7,462.2 L1532.9,464.4 L1533.9,466.7 L1535.0,469.0"/>
<path stroke="#00A076" d="M1250.0,44.5 L1252.3,45.4 L1254.7,46.4 L1257.0,47.3 L1259.3,48.3 L1261.6,49.3 L1263.9,50.3 L1266.2,51.3 L1268.5,52.3 L1270.8,53.3 L1273.1,54.4 L1275.4,55.4 L1277.7,56.5 L1280.0,57.5 L1282.2,58.6 L1284.5,59.7 L1286.8,60.8 L1289.0,61.9 L1291.3,63.1 L1293.5,64.2 L1295.8,65.3 L1298.0,66.5 L1300.2,67.7 L1302.5,68.8 L1304.7,70.1 L1306.9,71.3 L1309.0,72.5 L1311.2,73.8 L1313.3,75.1 L1315.4,76.5 L1317.5,77.9 L1319.5,79.4 L1321.5,80.9 L1323.6,82.4 L1325.6,83.9 L1327.7,85.3 L1329.8,86.6 L1332.0,87.8 L1334.2,89.0 L1336.5,90.1 L1338.8,91.2 L1341.0,92.3 L1343.3,93.4 L1345.6,94.4 L1347.9,95.5 L1350.2,96.4 L1352.6,97.4 L1354.9,98.4 L1357.2,99.4 L1359.5,100.4 L1361.7,101.6 L1363.8,102.9 L1365.9,104.3 L1367.9,105.7 L1369.9,107.3 L1371.9,108.9 L1373.8,110.5 L1375.8,112.1 L1377.8,113.6 L1379.7,115.2 L1381.7,116.8 L1383.6,118.4 L1385.6,120.0 L1387.5,121.6 L1389.4,123.2 L1391.3,124.9 L1393.2,126.5 L1395.1,128.2 L1397.0,129.8 L1398.9,131.5 L1400.7,133.3 L1402.5,135.0 L1404.4,136.7 L1406.3,138.4 L1408.1,140.0 L1410.1,141.6 L1412.0,143.2 L1414.1,144.7 L1416.0,146.2 L1418.0,147.9 L1419.8,149.5 L1421.7,151.2 L1423.5,153.0 L1425.3,154.7 L1427.1,156.5 L1428.8,158.3 L1430.5,160.2 L1432.3,162.0 L1434.0,163.8 L1435.7,165.7 L1437.3,167.6 L1438.9,169.5 L1440.5,171.5 L1442.1,173.5 L1443.7,175.4 L1445.2,177.4 L1446.9,179.3 L1448.5,181.2 L1450.2,183.1 L1451.9,184.9 L1453.7,186.6 L1455.5,188.3 L1457.4,190.0 L1459.3,191.6 L1461.3,193.2 L1463.2,194.8 L1465.2,196.4 L1467.1,198.1 L1469.0,199.7 L1470.9,201.4 L1472.8,203.0 L1474.7,204.7 L1476.6,206.3 L1478.5,208.0 L1480.4,209.6 L1482.3,211.3 L1484.1,213.0 L1486.0,214.6 L1487.9,216.3 L1489.7,218.0 L1491.6,219.7 L1493.4,221.5 L1495.2,223.2 L1497.0,224.9 L1498.9,226.6 L1500.7,228.4 L1502.5,230.1 L1504.4,231.8 L1506.2,233.5 L1508.1,235.2 L1509.9,236.9 L1511.8,238.6 L1513.6,240.3 L1515.5,242.0 L1517.4,243.7 L1519.2,245.4 L1521.1,247.0 L1523.0,248.7 L1524.9,250.4 L1526.8,252.0 L1528.7,253.6 L1530.6,255.3 L1532.5,256.9 L1534.4,258.6 L1536.3,260.3 L1538.1,262.0 L1540.0,263.7 L1541.8,265.4 L1543.7,267.1 L1545.6,268.8 L1547.4,270.5 L1549.2,272.2 L1551.0,274.0 L1552.7,275.8 L1554.4,277.7 L1556.0,279.6 L1557.5,281.6 L1559.0,283.6 L1560.4,285.7 L1561.8,287.8 L1563.2,289.9 L1564.6,292.0 L1566.1,294.0 L1567.6,296.1 L1569.0,298.1 L1570.5,300.1 L1572.0,302.2 L1573.5,304.2 L1575.0,306.2 L1576.5,308.2 L1578.1,310.2 L1579.7,312.1 L1581.3,314.0 L1583.0,315.9 L1584.7,317.8 L1586.4,319.7 L1588.0,321.6 L1589.7,323.5 L1591.2,325.4 L1592.7,327.4 L1594.1,329.5 L1595.4,331.6 L1596.7,333.8 L1598.0,336.0 L1599.2,338.2 L1600.5,340.4 L1601.7,342.6 L1603.0,344.7 L1604.3,346.9 L1605.6,349.0 L1606.9,351.2 L1608.2,353.3 L1609.5,355.5 L1610.8,357.7 L1612.1,359.8 L1613.4,362.0 L1614.6,364.1 L1615.9,366.3 L1617.2,368.5 L1618.5,370.6 L1619.8,372.8 L1621.1,374.9 L1622.5,377.0 L1623.9,379.1 L1625.3,381.1 L1626.8,383.2 L1628.2,385.3 L1629.7,387.3 L1631.1,389.4 L1632.5,391.5 L1633.9,393.6 L1635.2,395.7 L1636.5,397.8 L1637.9,400.0 L1639.2,402.1 L1640.5,404.3 L1641.8,406.4 L1643.1,408.6 L1644.4,410.7 L1645.7,412.9 L1647.0,415.1 L1648.2,417.2 L1649.5,419.4 L1650.8,421.6 L1652.0,423.8 L1653.2,426.0 L1654.4,428.2 L1655.5,430.4 L1656.7,432.7 L1657.8,434.9 L1659.0,437.1 L1660.2,439.3 L1661.4,441.5 L1662.6,443.8 L1663.8,446.0 L1665.0,448.2 L1666.3,450.4 L1667.5,452.5 L1668.9,454.7 L1670.2,456.7 L1671.8,458.7 L1673.4,460.7 L1675.0,462.6 L1676.4,464.7 L1677.8,466.8 L1679.0,469.0"/>
<path stroke="#FA5F00" d="M1250.0,46.0 L1252.4,46.7 L1254.8,47.5 L1257.2,48.2 L1259.6,49.0 L1262.0,49.8 L1264.4,50.6 L1266.8,51.4 L1269.1,52.2 L1271.5,53.1 L1273.9,53.9 L1276.3,54.7 L1278.6,55.6 L1281.0,56.4 L1283.4,57.3 L1285.7,58.1 L1288.1,58.9 L1290.5,59.8 L1292.8,60.7 L1295.2,61.5 L1297.6,62.4 L1299.9,63.3 L1302.3,64.2 L1304.6,65.1 L1307.0,66.0 L1309.3,66.9 L1311.6,67.8 L1314.0,68.8 L1316.3,69.8 L1318.6,70.8 L1320.9,71.9 L1323.1,72.9 L1325.4,74.0 L1327.7,75.1 L1330.0,76.2 L1332.3,77.2 L1334.5,78.3 L1336.8,79.3 L1339.2,80.3 L1341.5,81.2 L1343.8,82.1 L1346.2,82.9 L1348.6,83.8 L1351.0,84.5 L1353.4,85.3 L1355.8,86.1 L1358.2,86.9 L1360.5,87.7 L1362.9,88.6 L1365.2,89.6 L1367.5,90.7 L1369.7,91.8 L1372.0,92.9 L1374.3,93.9 L1376.6,95.0 L1378.9,95.9 L1381.3,96.7 L1383.7,97.5 L1386.1,98.2 L1388.5,98.9 L1391.0,99.5 L1393.4,100.2 L1395.8,100.9 L1398.2,101.7 L1400.5,102.6 L1402.8,103.6 L1405.1,104.6 L1407.4,105.7 L1409.6,106.8 L1411.9,108.0 L1414.1,109.3 L1416.3,110.5 L1418.5,111.7 L1420.6,113.1 L1422.7,114.5 L1424.8,115.9 L1426.8,117.3 L1428.9,118.7 L1431.0,120.1 L1433.2,121.4 L1435.4,122.7 L1437.6,123.8 L1439.8,124.9 L1442.1,126.0 L1444.4,127.0 L1446.7,128.0 L1449.0,129.1 L1451.3,130.2 L1453.5,131.3 L1455.7,132.5 L1458.0,133.7 L1460.2,134.9 L1462.4,136.1 L1464.6,137.4 L1466.8,138.5 L1469.0,139.7 L1471.3,140.7 L1473.6,141.8 L1475.9,142.8 L1478.3,143.8 L1480.6,144.8 L1482.8,145.9 L1485.1,147.0 L1487.2,148.3 L1489.3,149.6 L1491.4,151.0 L1493.4,152.5 L1495.4,154.0 L1497.4,155.6 L1499.4,157.1 L1501.4,158.7 L1503.5,160.2 L1505.5,161.6 L1507.5,163.1 L1509.6,164.6 L1511.6,166.0 L1513.7,167.5 L1515.7,169.0 L1517.7,170.5 L1519.8,172.0 L1521.8,173.5 L1523.8,175.0 L1525.8,176.5 L1527.8,178.0 L1529.9,179.5 L1531.9,181.0 L1533.9,182.5 L1535.9,184.0 L1537.9,185.6 L1539.9,187.1 L1541.9,188.6 L1543.9,190.1 L1545.9,191.6 L1547.9,193.2 L1549.9,194.7 L1551.8,196.3 L1553.8,197.9 L1555.6,199.6 L1557.5,201.3 L1559.2,203.1 L1561.0,204.9 L1562.9,206.6 L1564.7,208.3 L1566.6,210.0 L1568.4,211.7 L1570.3,213.3 L1572.2,215.0 L1574.1,216.7 L1576.0,218.4 L1577.8,220.0 L1579.7,221.7 L1581.6,223.4 L1583.5,225.0 L1585.4,226.7 L1587.3,228.4 L1589.1,230.0 L1591.0,231.7 L1592.9,233.3 L1594.8,235.0 L1596.7,236.7 L1598.6,238.4 L1600.4,240.1 L1602.3,241.8 L1604.1,243.5 L1605.9,245.3 L1607.6,247.0 L1609.4,248.9 L1611.1,250.7 L1612.9,252.5 L1614.6,254.3 L1616.3,256.2 L1618.0,258.1 L1619.6,259.9 L1621.3,261.8 L1623.0,263.7 L1624.7,265.6 L1626.3,267.5 L1628.0,269.4 L1629.6,271.3 L1631.3,273.2 L1632.9,275.1 L1634.6,277.0 L1636.2,278.9 L1637.8,280.8 L1639.4,282.8 L1641.0,284.7 L1642.6,286.6 L1644.3,288.5 L1645.9,290.5 L1647.5,292.4 L1649.1,294.3 L1650.8,296.2 L1652.4,298.1 L1654.0,300.0 L1655.7,302.0 L1657.3,303.9 L1658.9,305.8 L1660.6,307.7 L1662.2,309.6 L1663.8,311.5 L1665.5,313.4 L1667.1,315.4 L1668.7,317.3 L1670.3,319.2 L1672.0,321.1 L1673.6,323.1 L1675.2,325.0 L1676.8,326.9 L1678.5,328.8 L1680.1,330.7 L1681.7,332.7 L1683.4,334.6 L1685.0,336.5 L1686.6,338.5 L1688.2,340.4 L1689.8,342.3 L1691.4,344.3 L1692.9,346.3 L1694.5,348.3 L1696.0,350.3 L1697.5,352.3 L1698.9,354.3 L1700.4,356.3 L1701.8,358.4 L1703.3,360.5 L1704.7,362.5 L1706.1,364.6 L1707.5,366.7 L1708.8,368.8 L1710.2,371.0 L1711.6,373.1 L1712.9,375.2 L1714.3,377.3 L1715.7,379.4 L1717.0,381.5 L1718.4,383.7 L1719.8,385.8 L1721.1,387.9 L1722.5,390.0 L1723.9,392.1 L1725.3,394.2 L1726.7,396.3 L1728.0,398.4 L1729.4,400.5 L1730.8,402.6 L1732.1,404.8 L1733.5,406.9 L1734.8,409.0 L1736.1,411.2 L1737.4,413.3 L1738.7,415.5 L1739.9,417.7 L1741.2,419.8 L1742.4,422.0 L1743.6,424.2 L1744.8,426.4 L1746.0,428.6 L1747.2,430.9 L1748.4,433.1 L1749.6,435.3 L1750.7,437.6 L1751.9,439.8 L1753.0,442.0 L1754.2,444.3 L1755.3,446.5 L1756.5,448.8 L1757.6,451.0 L1758.7,453.2 L1759.9,455.5 L1761.0,457.7 L1762.1,460.0 L1763.2,462.2 L1764.4,464.5 L1765.5,466.8 L1766.6,469.0"/>
<path stroke="#7970B7" d="M1250.0,68.5 L1252.3,69.6 L1254.5,70.7 L1256.8,71.8 L1259.0,73.0 L1261.3,74.1 L1263.5,75.3 L1265.7,76.5 L1267.9,77.6 L1270.2,78.8 L1272.4,80.0 L1274.6,81.2 L1276.8,82.4 L1279.0,83.6 L1281.2,84.9 L1283.4,86.1 L1285.5,87.5 L1287.7,88.8 L1289.8,90.1 L1291.9,91.4 L1294.1,92.7 L1296.3,94.0 L1298.5,95.1 L1300.9,96.2 L1303.2,97.2 L1305.6,98.2 L1307.9,99.3 L1310.1,100.4 L1312.2,101.7 L1314.0,103.2 L1315.7,105.1 L1317.2,107.3 L1318.7,109.4 L1320.3,111.3 L1322.1,112.8 L1324.2,114.1 L1326.3,115.4 L1328.6,116.5 L1330.9,117.5 L1333.3,118.6 L1335.6,119.6 L1338.0,120.6 L1340.3,121.7 L1342.6,122.9 L1344.7,124.1 L1346.8,125.5 L1348.8,127.0 L1350.7,128.6 L1352.6,130.2 L1354.5,131.9 L1356.4,133.7 L1358.2,135.4 L1360.1,137.2 L1361.9,138.9 L1363.7,140.6 L1365.5,142.4 L1367.3,144.2 L1369.1,146.0 L1370.8,147.8 L1372.6,149.6 L1374.3,151.4 L1376.0,153.2 L1377.8,155.0 L1379.5,156.9 L1381.2,158.7 L1382.9,160.6 L1384.6,162.4 L1386.4,164.2 L1388.2,166.0 L1389.9,167.8 L1391.7,169.6 L1393.5,171.3 L1395.3,173.1 L1397.1,174.9 L1398.9,176.7 L1400.6,178.4 L1402.4,180.2 L1404.2,182.0 L1405.9,183.8 L1407.7,185.6 L1409.5,187.4 L1411.2,189.2 L1413.0,191.0 L1414.8,192.7 L1416.6,194.5 L1418.5,196.2 L1420.3,197.9 L1422.2,199.6 L1424.1,201.2 L1426.0,202.9 L1427.9,204.5 L1429.8,206.2 L1431.7,207.9 L1433.5,209.6 L1435.3,211.3 L1437.1,213.1 L1438.9,214.9 L1440.6,216.7 L1442.4,218.5 L1444.1,220.3 L1445.8,222.2 L1447.5,224.0 L1449.3,225.8 L1451.1,227.6 L1452.9,229.4 L1454.7,231.1 L1456.5,232.8 L1458.4,234.5 L1460.3,236.1 L1462.2,237.8 L1464.1,239.4 L1466.0,241.1 L1467.9,242.8 L1469.8,244.4 L1471.6,246.2 L1473.4,247.9 L1475.1,249.7 L1476.9,251.6 L1478.6,253.4 L1480.3,255.2 L1482.0,257.1 L1483.8,258.9 L1485.5,260.7 L1487.2,262.5 L1489.0,264.3 L1490.8,266.1 L1492.6,267.9 L1494.3,269.7 L1496.1,271.4 L1497.9,273.2 L1499.7,275.0 L1501.4,276.8 L1503.2,278.6 L1504.9,280.4 L1506.7,282.2 L1508.5,284.0 L1510.2,285.9 L1511.9,287.7 L1513.6,289.5 L1515.3,291.4 L1517.0,293.3 L1518.6,295.2 L1520.2,297.2 L1521.7,299.1 L1523.2,301.1 L1524.7,303.2 L1526.2,305.2 L1527.7,307.2 L1529.2,309.3 L1530.7,311.3 L1532.1,313.4 L1533.6,315.4 L1535.1,317.5 L1536.5,319.5 L1538.0,321.6 L1539.4,323.7 L1540.8,325.8 L1542.1,327.9 L1543.5,330.0 L1544.9,332.1 L1546.2,334.3 L1547.5,336.4 L1548.8,338.6 L1550.0,340.8 L1551.2,343.0 L1552.3,345.2 L1553.3,347.5 L1554.3,349.9 L1555.3,352.2 L1556.2,354.5 L1557.2,356.8 L1558.3,359.1 L1559.5,361.3 L1560.8,363.5 L1562.1,365.6 L1563.5,367.7 L1564.8,369.9 L1566.2,372.0 L1567.5,374.2 L1568.7,376.4 L1569.8,378.6 L1570.9,380.9 L1572.0,383.1 L1573.1,385.4 L1574.2,387.7 L1575.3,389.9 L1576.6,392.1 L1577.9,394.2 L1579.3,396.3 L1580.7,398.4 L1582.2,400.5 L1583.6,402.6 L1585.0,404.7 L1586.3,406.8 L1587.4,409.0 L1588.6,411.3 L1589.6,413.5 L1590.6,415.9 L1591.6,418.2 L1592.6,420.5 L1593.6,422.8 L1594.6,425.1 L1595.5,427.5 L1596.4,429.8 L1597.3,432.2 L1598.2,434.5 L1599.1,436.9 L1600.1,439.2 L1601.1,441.5 L1602.2,443.7 L1603.4,446.0 L1604.6,448.2 L1605.8,450.4 L1606.9,452.7 L1608.0,454.9 L1609.0,457.3 L1609.9,459.6 L1610.7,462.0 L1611.6,464.3 L1612.6,466.7 L1613.5,469.0"/>
<path stroke="#F9AC00" d="M1250.0,114.5 L1252.3,115.6 L1254.4,117.0 L1256.4,118.5 L1258.4,120.0 L1260.6,121.2 L1262.8,122.4 L1265.1,123.5 L1267.3,124.7 L1269.5,125.8 L1271.8,127.0 L1273.9,128.3 L1276.1,129.6 L1278.2,131.0 L1280.2,132.4 L1282.3,133.9 L1284.3,135.4 L1286.3,137.0 L1288.3,138.5 L1290.2,140.1 L1292.2,141.7 L1294.0,143.3 L1295.9,145.1 L1297.7,146.8 L1299.5,148.6 L1301.3,150.3 L1303.2,152.0 L1305.1,153.6 L1307.1,155.2 L1309.0,156.8 L1310.8,158.5 L1312.5,160.4 L1314.1,162.3 L1315.7,164.3 L1317.4,166.2 L1319.0,168.0 L1320.8,169.8 L1322.7,171.5 L1324.6,173.2 L1326.4,174.9 L1328.1,176.8 L1329.7,178.8 L1331.2,180.8 L1332.6,182.9 L1334.2,184.9 L1335.9,186.7 L1337.7,188.3 L1339.8,189.8 L1341.9,191.2 L1344.1,192.5 L1346.2,193.8 L1348.4,195.0 L1350.7,196.2 L1352.9,197.4 L1355.0,198.7 L1357.1,200.1 L1359.2,201.4 L1361.3,202.8 L1363.5,204.2 L1365.7,205.5 L1367.9,206.8 L1369.9,208.2 L1371.5,210.0 L1372.9,212.1 L1374.1,214.4 L1375.3,216.6 L1376.3,218.9 L1377.3,221.3 L1378.3,223.6 L1379.5,225.7 L1381.0,227.6 L1382.8,229.4 L1384.7,231.1 L1386.6,232.8 L1388.5,234.5 L1390.3,236.3 L1392.0,238.1 L1393.8,240.0 L1395.5,241.8 L1397.2,243.6 L1399.0,245.4 L1400.8,247.2 L1402.7,248.8 L1404.5,250.5 L1406.5,252.1 L1408.4,253.8 L1410.3,255.4 L1412.2,257.0 L1414.1,258.6 L1416.1,260.2 L1418.1,261.8 L1420.0,263.5 L1421.8,265.2 L1423.5,267.0 L1425.2,268.8 L1426.9,270.7 L1428.5,272.7 L1430.1,274.6 L1431.7,276.6 L1433.3,278.5 L1434.9,280.5 L1436.5,282.4 L1438.0,284.4 L1439.5,286.5 L1441.1,288.5 L1442.6,290.4 L1444.2,292.4 L1445.9,294.2 L1447.6,296.0 L1449.4,297.8 L1451.2,299.5 L1453.1,301.2 L1455.0,302.8 L1456.9,304.5 L1458.8,306.1 L1460.7,307.8 L1462.6,309.4 L1464.5,311.1 L1466.4,312.8 L1468.3,314.5 L1470.2,316.2 L1472.1,317.9 L1474.0,319.6 L1475.8,321.3 L1477.6,323.1 L1479.3,324.9 L1480.8,326.8 L1482.3,328.8 L1483.6,330.9 L1484.9,333.1 L1486.1,335.3 L1487.3,337.6 L1488.6,339.8 L1489.9,341.9 L1491.3,344.0 L1492.8,346.0 L1494.3,348.0 L1495.9,350.0 L1497.4,351.9 L1499.1,353.9 L1500.7,355.8 L1502.3,357.7 L1503.9,359.7 L1505.5,361.6 L1507.2,363.5 L1508.8,365.4 L1510.5,367.3 L1512.1,369.2 L1513.8,371.1 L1515.4,373.0 L1517.0,374.9 L1518.6,376.9 L1520.2,378.9 L1521.8,380.8 L1523.4,382.8 L1524.9,384.8 L1526.4,386.8 L1527.8,388.9 L1529.1,391.0 L1530.3,393.2 L1531.4,395.4 L1532.5,397.7 L1533.5,400.0 L1534.5,402.4 L1535.5,404.7 L1536.4,407.1 L1537.3,409.4 L1538.1,411.8 L1538.9,414.2 L1539.7,416.6 L1540.5,419.0 L1541.3,421.3 L1542.2,423.7 L1543.2,426.0 L1544.3,428.2 L1545.5,430.4 L1546.7,432.7 L1547.9,434.9 L1549.0,437.1 L1550.2,439.4 L1551.2,441.7 L1552.2,444.0 L1553.3,446.3 L1554.3,448.6 L1555.3,450.9 L1556.3,453.2 L1557.3,455.5 L1558.4,457.7 L1559.5,460.0 L1560.6,462.3 L1561.7,464.5 L1562.8,466.8 L1564.0,469.0"/>
</g>
<g stroke-width="14.3" stroke-linecap="round" fill="none"><path stroke="#515151" d="M363,830.0H503.2"/><path stroke="#00A076" d="M363,907.5H503.2"/><path stroke="#FA5F00" d="M363,985.8H503.2"/><path stroke="#7970B7" d="M363,1063.4H503.2"/><path stroke="#F9AC00" d="M363,1141.9H503.2"/></g>
<text transform="translate(518.2,851.6) scale(1,1.04)" font-size="61">RSF</text>
<text transform="translate(518.2,929.1) scale(1,1.04)" font-size="61">RSF-COOH 0.5</text>
<text transform="translate(518.2,1007.4) scale(1,1.04)" font-size="61">RSF-COOH 0.75</text>
<text transform="translate(518.2,1085.0) scale(1,1.04)" font-size="61">RSF-COOH 1.0</text>
<text transform="translate(518.2,1163.5) scale(1,1.04)" font-size="61">RSF-COOH 2.0</text>
<text transform="translate(272.4,1189.5) scale(1,1.04)" font-size="71" text-anchor="end">20</text>
<text transform="translate(272.4,921.0) scale(1,1.04)" font-size="71" text-anchor="end">40</text>
<text transform="translate(272.4,652.5) scale(1,1.04)" font-size="71" text-anchor="end">60</text>
<text transform="translate(272.4,384.0) scale(1,1.04)" font-size="71" text-anchor="end">80</text>
<text transform="translate(272.4,115.5) scale(1,1.04)" font-size="71" text-anchor="end">100</text>
<text transform="translate(512.8,1316.8) scale(1,1.04)" font-size="71" text-anchor="middle">200</text>
<text transform="translate(941.3,1316.8) scale(1,1.04)" font-size="71" text-anchor="middle">400</text>
<text transform="translate(1369.8,1316.8) scale(1,1.04)" font-size="71" text-anchor="middle">600</text>
<text transform="translate(1798.3,1316.8) scale(1,1.04)" font-size="71" text-anchor="middle">800</text>
<text transform="translate(1234.8,476.8) scale(1,1.04)" font-size="41.3" text-anchor="end">70</text>
<text transform="translate(1234.8,301.3) scale(1,1.04)" font-size="41.3" text-anchor="end">80</text>
<text transform="translate(1234.8,125.8) scale(1,1.04)" font-size="41.3" text-anchor="end">90</text>
<text transform="translate(1252.5,513.5) scale(1,1.04)" font-size="41.3" text-anchor="middle">420</text>
<text transform="translate(1470.1,513.5) scale(1,1.04)" font-size="41.3" text-anchor="middle">440</text>
<text transform="translate(1687.7,513.5) scale(1,1.04)" font-size="41.3" text-anchor="middle">460</text>
<text transform="translate(1049.8,1450.0) scale(1,1.0)" font-size="86.2" text-anchor="middle">Temperature <tspan font-size="82.8" dx="0.8" dy="-0.5">(</tspan><tspan dx="0.4" dy="0.5">°C</tspan><tspan font-size="82.8" dx="0.4" dy="-0.5">)</tspan></text>
<text transform="translate(77.6,608.8) rotate(-90) scale(1,1.0)" font-size="85.4" text-anchor="middle">Weight <tspan font-size="82" dx="0.8" dy="-0.5">(</tspan><tspan dx="0.4" dy="0.5">%</tspan><tspan font-size="82" dx="0.4" dy="-0.5">)</tspan></text>
</svg>
</body></html>
